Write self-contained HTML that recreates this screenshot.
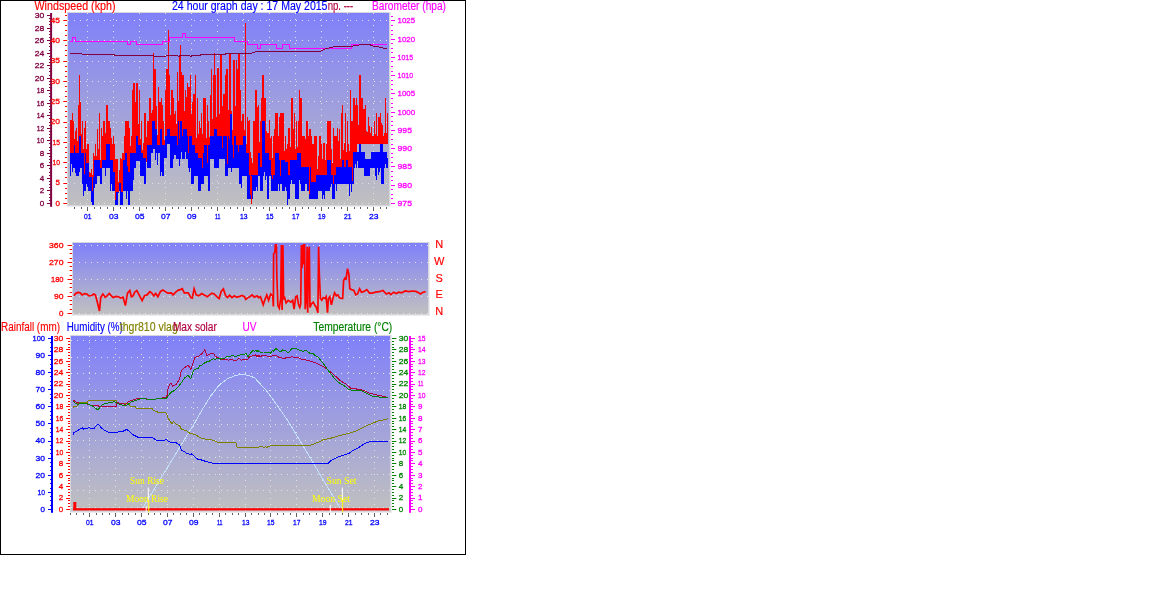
<!DOCTYPE html>
<html><head><meta charset="utf-8"><title>24 hour graph</title>
<style>html,body{margin:0;padding:0;background:#fff}svg{display:block}text{font-family:"Liberation Sans",Arial,sans-serif}</style>
</head><body>
<svg width="1176" height="615" viewBox="0 0 1176 615">
<defs>
<linearGradient id="g1" x1="0" y1="0" x2="0" y2="1"><stop offset="0" stop-color="#8080fa"/><stop offset="1" stop-color="#c0c0c0"/></linearGradient>
</defs>
<rect x="0" y="0" width="1176" height="615" fill="#fff"/>
<rect x="0.5" y="0.5" width="465" height="554" fill="#fff" stroke="#000" stroke-width="1"/>
<rect x="67" y="12" width="324" height="195" fill="#ececf0"/>
<rect x="67" y="12" width="323" height="194" fill="#d6d6dc"/>
<rect x="68" y="13" width="321" height="192" fill="url(#g1)"/>
<line x1="68" y1="20.5" x2="389" y2="20.5" stroke="#e4e4e0" stroke-width="1" stroke-dasharray="1 5" shape-rendering="crispEdges"/>
<line x1="68" y1="40.5" x2="389" y2="40.5" stroke="#e4e4e0" stroke-width="1" stroke-dasharray="1 5" shape-rendering="crispEdges"/>
<line x1="68" y1="61.5" x2="389" y2="61.5" stroke="#e4e4e0" stroke-width="1" stroke-dasharray="1 5" shape-rendering="crispEdges"/>
<line x1="68" y1="81.5" x2="389" y2="81.5" stroke="#e4e4e0" stroke-width="1" stroke-dasharray="1 5" shape-rendering="crispEdges"/>
<line x1="68" y1="101.5" x2="389" y2="101.5" stroke="#e4e4e0" stroke-width="1" stroke-dasharray="1 5" shape-rendering="crispEdges"/>
<line x1="68" y1="122.5" x2="389" y2="122.5" stroke="#e4e4e0" stroke-width="1" stroke-dasharray="1 5" shape-rendering="crispEdges"/>
<line x1="68" y1="142.5" x2="389" y2="142.5" stroke="#e4e4e0" stroke-width="1" stroke-dasharray="1 5" shape-rendering="crispEdges"/>
<line x1="68" y1="162.5" x2="389" y2="162.5" stroke="#e4e4e0" stroke-width="1" stroke-dasharray="1 5" shape-rendering="crispEdges"/>
<line x1="68" y1="183.5" x2="389" y2="183.5" stroke="#e4e4e0" stroke-width="1" stroke-dasharray="1 5" shape-rendering="crispEdges"/>
<line x1="68" y1="203.5" x2="389" y2="203.5" stroke="#e4e4e0" stroke-width="1" stroke-dasharray="1 5" shape-rendering="crispEdges"/>
<line x1="87.5" y1="13" x2="87.5" y2="205" stroke="#e4e4e0" stroke-width="1" stroke-dasharray="1 5" shape-rendering="crispEdges"/>
<line x1="113.5" y1="13" x2="113.5" y2="205" stroke="#e4e4e0" stroke-width="1" stroke-dasharray="1 5" shape-rendering="crispEdges"/>
<line x1="139.5" y1="13" x2="139.5" y2="205" stroke="#e4e4e0" stroke-width="1" stroke-dasharray="1 5" shape-rendering="crispEdges"/>
<line x1="165.5" y1="13" x2="165.5" y2="205" stroke="#e4e4e0" stroke-width="1" stroke-dasharray="1 5" shape-rendering="crispEdges"/>
<line x1="191.5" y1="13" x2="191.5" y2="205" stroke="#e4e4e0" stroke-width="1" stroke-dasharray="1 5" shape-rendering="crispEdges"/>
<line x1="217.5" y1="13" x2="217.5" y2="205" stroke="#e4e4e0" stroke-width="1" stroke-dasharray="1 5" shape-rendering="crispEdges"/>
<line x1="243.5" y1="13" x2="243.5" y2="205" stroke="#e4e4e0" stroke-width="1" stroke-dasharray="1 5" shape-rendering="crispEdges"/>
<line x1="269.5" y1="13" x2="269.5" y2="205" stroke="#e4e4e0" stroke-width="1" stroke-dasharray="1 5" shape-rendering="crispEdges"/>
<line x1="295.5" y1="13" x2="295.5" y2="205" stroke="#e4e4e0" stroke-width="1" stroke-dasharray="1 5" shape-rendering="crispEdges"/>
<line x1="321.5" y1="13" x2="321.5" y2="205" stroke="#e4e4e0" stroke-width="1" stroke-dasharray="1 5" shape-rendering="crispEdges"/>
<line x1="347.5" y1="13" x2="347.5" y2="205" stroke="#e4e4e0" stroke-width="1" stroke-dasharray="1 5" shape-rendering="crispEdges"/>
<line x1="373.5" y1="13" x2="373.5" y2="205" stroke="#e4e4e0" stroke-width="1" stroke-dasharray="1 5" shape-rendering="crispEdges"/>
<text x="34.5" y="9.8" fill="#ff0000" stroke="#ff0000" stroke-width="0.15" font-size="12" text-anchor="start" textLength="81" lengthAdjust="spacingAndGlyphs" >Windspeed (kph)</text>
<text x="172" y="9.8" fill="#0000ff" stroke="#0000ff" stroke-width="0.15" font-size="12" text-anchor="start" textLength="155.5" lengthAdjust="spacingAndGlyphs" >24 hour graph day : 17 May 2015</text>
<text x="327.7" y="9.8" fill="#b00040" stroke="#b00040" stroke-width="0.15" font-size="12" text-anchor="start" textLength="25.5" lengthAdjust="spacingAndGlyphs" >np. ---</text>
<text x="372" y="9.8" fill="#ff00ff" stroke="#ff00ff" stroke-width="0.15" font-size="12" text-anchor="start" textLength="74" lengthAdjust="spacingAndGlyphs" >Barometer (hpa)</text>
<rect x="50.10" y="13" width="2" height="193.80" fill="#800040"/>
<rect x="47" y="203.00" width="3.50" height="1" fill="#800040"/>
<text x="44.3" y="205.8" fill="#800040" stroke="#800040" stroke-width="0.3" font-size="8" text-anchor="end" >0</text>
<rect x="49" y="200.00" width="1.50" height="1" fill="#800040"/>
<rect x="49" y="197.00" width="1.50" height="1" fill="#800040"/>
<rect x="49" y="194.00" width="1.50" height="1" fill="#800040"/>
<rect x="47" y="190.00" width="3.50" height="1" fill="#800040"/>
<text x="44.3" y="193.28" fill="#800040" stroke="#800040" stroke-width="0.3" font-size="8" text-anchor="end" >2</text>
<rect x="49" y="187.00" width="1.50" height="1" fill="#800040"/>
<rect x="49" y="184.00" width="1.50" height="1" fill="#800040"/>
<rect x="49" y="181.00" width="1.50" height="1" fill="#800040"/>
<rect x="47" y="178.00" width="3.50" height="1" fill="#800040"/>
<text x="44.3" y="180.76000000000002" fill="#800040" stroke="#800040" stroke-width="0.3" font-size="8" text-anchor="end" >4</text>
<rect x="49" y="175.00" width="1.50" height="1" fill="#800040"/>
<rect x="49" y="172.00" width="1.50" height="1" fill="#800040"/>
<rect x="49" y="168.00" width="1.50" height="1" fill="#800040"/>
<rect x="47" y="165.00" width="3.50" height="1" fill="#800040"/>
<text x="44.3" y="168.24" fill="#800040" stroke="#800040" stroke-width="0.3" font-size="8" text-anchor="end" >6</text>
<rect x="49" y="162.00" width="1.50" height="1" fill="#800040"/>
<rect x="49" y="159.00" width="1.50" height="1" fill="#800040"/>
<rect x="49" y="156.00" width="1.50" height="1" fill="#800040"/>
<rect x="47" y="153.00" width="3.50" height="1" fill="#800040"/>
<text x="44.3" y="155.72" fill="#800040" stroke="#800040" stroke-width="0.3" font-size="8" text-anchor="end" >8</text>
<rect x="49" y="150.00" width="1.50" height="1" fill="#800040"/>
<rect x="49" y="147.00" width="1.50" height="1" fill="#800040"/>
<rect x="49" y="143.00" width="1.50" height="1" fill="#800040"/>
<rect x="47" y="140.00" width="3.50" height="1" fill="#800040"/>
<text x="44.3" y="143.20000000000002" fill="#800040" stroke="#800040" stroke-width="0.3" font-size="8" text-anchor="end" textLength="7.5" lengthAdjust="spacingAndGlyphs" >10</text>
<rect x="49" y="137.00" width="1.50" height="1" fill="#800040"/>
<rect x="49" y="134.00" width="1.50" height="1" fill="#800040"/>
<rect x="49" y="131.00" width="1.50" height="1" fill="#800040"/>
<rect x="47" y="128.00" width="3.50" height="1" fill="#800040"/>
<text x="44.3" y="130.68" fill="#800040" stroke="#800040" stroke-width="0.3" font-size="8" text-anchor="end" textLength="7.5" lengthAdjust="spacingAndGlyphs" >12</text>
<rect x="49" y="125.00" width="1.50" height="1" fill="#800040"/>
<rect x="49" y="122.00" width="1.50" height="1" fill="#800040"/>
<rect x="49" y="118.00" width="1.50" height="1" fill="#800040"/>
<rect x="47" y="115.00" width="3.50" height="1" fill="#800040"/>
<text x="44.3" y="118.16000000000001" fill="#800040" stroke="#800040" stroke-width="0.3" font-size="8" text-anchor="end" textLength="7.5" lengthAdjust="spacingAndGlyphs" >14</text>
<rect x="49" y="112.00" width="1.50" height="1" fill="#800040"/>
<rect x="49" y="109.00" width="1.50" height="1" fill="#800040"/>
<rect x="49" y="106.00" width="1.50" height="1" fill="#800040"/>
<rect x="47" y="103.00" width="3.50" height="1" fill="#800040"/>
<text x="44.3" y="105.64000000000001" fill="#800040" stroke="#800040" stroke-width="0.3" font-size="8" text-anchor="end" textLength="7.5" lengthAdjust="spacingAndGlyphs" >16</text>
<rect x="49" y="100.00" width="1.50" height="1" fill="#800040"/>
<rect x="49" y="96.00" width="1.50" height="1" fill="#800040"/>
<rect x="49" y="93.00" width="1.50" height="1" fill="#800040"/>
<rect x="47" y="90.00" width="3.50" height="1" fill="#800040"/>
<text x="44.3" y="93.12000000000002" fill="#800040" stroke="#800040" stroke-width="0.3" font-size="8" text-anchor="end" textLength="7.5" lengthAdjust="spacingAndGlyphs" >18</text>
<rect x="49" y="87.00" width="1.50" height="1" fill="#800040"/>
<rect x="49" y="84.00" width="1.50" height="1" fill="#800040"/>
<rect x="49" y="81.00" width="1.50" height="1" fill="#800040"/>
<rect x="47" y="78.00" width="3.50" height="1" fill="#800040"/>
<text x="44.3" y="80.60000000000002" fill="#800040" stroke="#800040" stroke-width="0.3" font-size="8" text-anchor="end" textLength="9.5" lengthAdjust="spacingAndGlyphs" >20</text>
<rect x="49" y="75.00" width="1.50" height="1" fill="#800040"/>
<rect x="49" y="71.00" width="1.50" height="1" fill="#800040"/>
<rect x="49" y="68.00" width="1.50" height="1" fill="#800040"/>
<rect x="47" y="65.00" width="3.50" height="1" fill="#800040"/>
<text x="44.3" y="68.08000000000001" fill="#800040" stroke="#800040" stroke-width="0.3" font-size="8" text-anchor="end" textLength="9.5" lengthAdjust="spacingAndGlyphs" >22</text>
<rect x="49" y="62.00" width="1.50" height="1" fill="#800040"/>
<rect x="49" y="59.00" width="1.50" height="1" fill="#800040"/>
<rect x="49" y="56.00" width="1.50" height="1" fill="#800040"/>
<rect x="47" y="53.00" width="3.50" height="1" fill="#800040"/>
<text x="44.3" y="55.559999999999995" fill="#800040" stroke="#800040" stroke-width="0.3" font-size="8" text-anchor="end" textLength="9.5" lengthAdjust="spacingAndGlyphs" >24</text>
<rect x="49" y="50.00" width="1.50" height="1" fill="#800040"/>
<rect x="49" y="46.00" width="1.50" height="1" fill="#800040"/>
<rect x="49" y="43.00" width="1.50" height="1" fill="#800040"/>
<rect x="47" y="40.00" width="3.50" height="1" fill="#800040"/>
<text x="44.3" y="43.04000000000001" fill="#800040" stroke="#800040" stroke-width="0.3" font-size="8" text-anchor="end" textLength="9.5" lengthAdjust="spacingAndGlyphs" >26</text>
<rect x="49" y="37.00" width="1.50" height="1" fill="#800040"/>
<rect x="49" y="34.00" width="1.50" height="1" fill="#800040"/>
<rect x="49" y="31.00" width="1.50" height="1" fill="#800040"/>
<rect x="47" y="28.00" width="3.50" height="1" fill="#800040"/>
<text x="44.3" y="30.520000000000003" fill="#800040" stroke="#800040" stroke-width="0.3" font-size="8" text-anchor="end" textLength="9.5" lengthAdjust="spacingAndGlyphs" >28</text>
<rect x="49" y="24.00" width="1.50" height="1" fill="#800040"/>
<rect x="49" y="21.00" width="1.50" height="1" fill="#800040"/>
<rect x="49" y="18.00" width="1.50" height="1" fill="#800040"/>
<rect x="47" y="15.00" width="3.50" height="1" fill="#800040"/>
<text x="44.3" y="18.00000000000002" fill="#800040" stroke="#800040" stroke-width="0.3" font-size="8" text-anchor="end" textLength="9.5" lengthAdjust="spacingAndGlyphs" >30</text>
<rect x="63.3" y="203.00" width="3.70" height="1" fill="#ff0000"/>
<text x="60" y="205.8" fill="#ff0000" stroke="#ff0000" stroke-width="0.3" font-size="8" text-anchor="end" >0</text>
<rect x="65" y="198.00" width="2.00" height="1" fill="#ff0000"/>
<rect x="65" y="193.00" width="2.00" height="1" fill="#ff0000"/>
<rect x="65" y="188.00" width="2.00" height="1" fill="#ff0000"/>
<rect x="63.3" y="183.00" width="3.70" height="1" fill="#ff0000"/>
<text x="60" y="185.465" fill="#ff0000" stroke="#ff0000" stroke-width="0.3" font-size="8" text-anchor="end" >5</text>
<rect x="65" y="177.00" width="2.00" height="1" fill="#ff0000"/>
<rect x="65" y="172.00" width="2.00" height="1" fill="#ff0000"/>
<rect x="65" y="167.00" width="2.00" height="1" fill="#ff0000"/>
<rect x="63.3" y="162.00" width="3.70" height="1" fill="#ff0000"/>
<text x="60" y="165.13000000000002" fill="#ff0000" stroke="#ff0000" stroke-width="0.3" font-size="8" text-anchor="end" textLength="7.5" lengthAdjust="spacingAndGlyphs" >10</text>
<rect x="65" y="157.00" width="2.00" height="1" fill="#ff0000"/>
<rect x="65" y="152.00" width="2.00" height="1" fill="#ff0000"/>
<rect x="65" y="147.00" width="2.00" height="1" fill="#ff0000"/>
<rect x="63.3" y="142.00" width="3.70" height="1" fill="#ff0000"/>
<text x="60" y="144.79500000000002" fill="#ff0000" stroke="#ff0000" stroke-width="0.3" font-size="8" text-anchor="end" textLength="7.5" lengthAdjust="spacingAndGlyphs" >15</text>
<rect x="65" y="137.00" width="2.00" height="1" fill="#ff0000"/>
<rect x="65" y="132.00" width="2.00" height="1" fill="#ff0000"/>
<rect x="65" y="127.00" width="2.00" height="1" fill="#ff0000"/>
<rect x="63.3" y="122.00" width="3.70" height="1" fill="#ff0000"/>
<text x="60" y="124.46000000000001" fill="#ff0000" stroke="#ff0000" stroke-width="0.3" font-size="8" text-anchor="end" textLength="9.5" lengthAdjust="spacingAndGlyphs" >20</text>
<rect x="65" y="116.00" width="2.00" height="1" fill="#ff0000"/>
<rect x="65" y="111.00" width="2.00" height="1" fill="#ff0000"/>
<rect x="65" y="106.00" width="2.00" height="1" fill="#ff0000"/>
<rect x="63.3" y="101.00" width="3.70" height="1" fill="#ff0000"/>
<text x="60" y="104.125" fill="#ff0000" stroke="#ff0000" stroke-width="0.3" font-size="8" text-anchor="end" textLength="9.5" lengthAdjust="spacingAndGlyphs" >25</text>
<rect x="65" y="96.00" width="2.00" height="1" fill="#ff0000"/>
<rect x="65" y="91.00" width="2.00" height="1" fill="#ff0000"/>
<rect x="65" y="86.00" width="2.00" height="1" fill="#ff0000"/>
<rect x="63.3" y="81.00" width="3.70" height="1" fill="#ff0000"/>
<text x="60" y="83.79" fill="#ff0000" stroke="#ff0000" stroke-width="0.3" font-size="8" text-anchor="end" textLength="9.5" lengthAdjust="spacingAndGlyphs" >30</text>
<rect x="65" y="76.00" width="2.00" height="1" fill="#ff0000"/>
<rect x="65" y="71.00" width="2.00" height="1" fill="#ff0000"/>
<rect x="65" y="66.00" width="2.00" height="1" fill="#ff0000"/>
<rect x="63.3" y="61.00" width="3.70" height="1" fill="#ff0000"/>
<text x="60" y="63.455000000000005" fill="#ff0000" stroke="#ff0000" stroke-width="0.3" font-size="8" text-anchor="end" textLength="9.5" lengthAdjust="spacingAndGlyphs" >35</text>
<rect x="65" y="55.00" width="2.00" height="1" fill="#ff0000"/>
<rect x="65" y="50.00" width="2.00" height="1" fill="#ff0000"/>
<rect x="65" y="45.00" width="2.00" height="1" fill="#ff0000"/>
<rect x="63.3" y="40.00" width="3.70" height="1" fill="#ff0000"/>
<text x="60" y="43.12" fill="#ff0000" stroke="#ff0000" stroke-width="0.3" font-size="8" text-anchor="end" textLength="9.5" lengthAdjust="spacingAndGlyphs" >40</text>
<rect x="65" y="35.00" width="2.00" height="1" fill="#ff0000"/>
<rect x="65" y="30.00" width="2.00" height="1" fill="#ff0000"/>
<rect x="65" y="25.00" width="2.00" height="1" fill="#ff0000"/>
<rect x="63.3" y="20.00" width="3.70" height="1" fill="#ff0000"/>
<text x="60" y="22.78499999999999" fill="#ff0000" stroke="#ff0000" stroke-width="0.3" font-size="8" text-anchor="end" textLength="9.5" lengthAdjust="spacingAndGlyphs" >45</text>
<rect x="65" y="15.00" width="2.00" height="1" fill="#ff0000"/>
<rect x="391" y="203.00" width="4.00" height="1" fill="#ff00ff"/>
<text x="397.5" y="205.8" fill="#ff00ff" stroke="#ff00ff" stroke-width="0.3" font-size="8" text-anchor="start" textLength="14.5" lengthAdjust="spacingAndGlyphs" >975</text>
<rect x="391" y="198.00" width="2.00" height="1" fill="#ff00ff"/>
<rect x="391" y="194.00" width="2.00" height="1" fill="#ff00ff"/>
<rect x="391" y="189.00" width="2.00" height="1" fill="#ff00ff"/>
<rect x="391" y="185.00" width="4.00" height="1" fill="#ff00ff"/>
<text x="397.5" y="187.55" fill="#ff00ff" stroke="#ff00ff" stroke-width="0.3" font-size="8" text-anchor="start" textLength="14.5" lengthAdjust="spacingAndGlyphs" >980</text>
<rect x="391" y="180.00" width="2.00" height="1" fill="#ff00ff"/>
<rect x="391" y="176.00" width="2.00" height="1" fill="#ff00ff"/>
<rect x="391" y="171.00" width="2.00" height="1" fill="#ff00ff"/>
<rect x="391" y="166.00" width="4.00" height="1" fill="#ff00ff"/>
<text x="397.5" y="169.3" fill="#ff00ff" stroke="#ff00ff" stroke-width="0.3" font-size="8" text-anchor="start" textLength="14.5" lengthAdjust="spacingAndGlyphs" >985</text>
<rect x="391" y="162.00" width="2.00" height="1" fill="#ff00ff"/>
<rect x="391" y="157.00" width="2.00" height="1" fill="#ff00ff"/>
<rect x="391" y="153.00" width="2.00" height="1" fill="#ff00ff"/>
<rect x="391" y="148.00" width="4.00" height="1" fill="#ff00ff"/>
<text x="397.5" y="151.05" fill="#ff00ff" stroke="#ff00ff" stroke-width="0.3" font-size="8" text-anchor="start" textLength="14.5" lengthAdjust="spacingAndGlyphs" >990</text>
<rect x="391" y="144.00" width="2.00" height="1" fill="#ff00ff"/>
<rect x="391" y="139.00" width="2.00" height="1" fill="#ff00ff"/>
<rect x="391" y="134.00" width="2.00" height="1" fill="#ff00ff"/>
<rect x="391" y="130.00" width="4.00" height="1" fill="#ff00ff"/>
<text x="397.5" y="132.8" fill="#ff00ff" stroke="#ff00ff" stroke-width="0.3" font-size="8" text-anchor="start" textLength="14.5" lengthAdjust="spacingAndGlyphs" >995</text>
<rect x="391" y="125.00" width="2.00" height="1" fill="#ff00ff"/>
<rect x="391" y="121.00" width="2.00" height="1" fill="#ff00ff"/>
<rect x="391" y="116.00" width="2.00" height="1" fill="#ff00ff"/>
<rect x="391" y="112.00" width="4.00" height="1" fill="#ff00ff"/>
<text x="397.5" y="114.55000000000001" fill="#ff00ff" stroke="#ff00ff" stroke-width="0.3" font-size="8" text-anchor="start" textLength="17.5" lengthAdjust="spacingAndGlyphs" >1000</text>
<rect x="391" y="107.00" width="2.00" height="1" fill="#ff00ff"/>
<rect x="391" y="103.00" width="2.00" height="1" fill="#ff00ff"/>
<rect x="391" y="98.00" width="2.00" height="1" fill="#ff00ff"/>
<rect x="391" y="93.00" width="4.00" height="1" fill="#ff00ff"/>
<text x="397.5" y="96.30000000000001" fill="#ff00ff" stroke="#ff00ff" stroke-width="0.3" font-size="8" text-anchor="start" textLength="17.5" lengthAdjust="spacingAndGlyphs" >1005</text>
<rect x="391" y="89.00" width="2.00" height="1" fill="#ff00ff"/>
<rect x="391" y="84.00" width="2.00" height="1" fill="#ff00ff"/>
<rect x="391" y="80.00" width="2.00" height="1" fill="#ff00ff"/>
<rect x="391" y="75.00" width="4.00" height="1" fill="#ff00ff"/>
<text x="397.5" y="78.05000000000001" fill="#ff00ff" stroke="#ff00ff" stroke-width="0.3" font-size="8" text-anchor="start" textLength="15.5" lengthAdjust="spacingAndGlyphs" >1010</text>
<rect x="391" y="71.00" width="2.00" height="1" fill="#ff00ff"/>
<rect x="391" y="66.00" width="2.00" height="1" fill="#ff00ff"/>
<rect x="391" y="61.00" width="2.00" height="1" fill="#ff00ff"/>
<rect x="391" y="57.00" width="4.00" height="1" fill="#ff00ff"/>
<text x="397.5" y="59.800000000000004" fill="#ff00ff" stroke="#ff00ff" stroke-width="0.3" font-size="8" text-anchor="start" textLength="15.5" lengthAdjust="spacingAndGlyphs" >1015</text>
<rect x="391" y="52.00" width="2.00" height="1" fill="#ff00ff"/>
<rect x="391" y="48.00" width="2.00" height="1" fill="#ff00ff"/>
<rect x="391" y="43.00" width="2.00" height="1" fill="#ff00ff"/>
<rect x="391" y="39.00" width="4.00" height="1" fill="#ff00ff"/>
<text x="397.5" y="41.550000000000004" fill="#ff00ff" stroke="#ff00ff" stroke-width="0.3" font-size="8" text-anchor="start" textLength="17.5" lengthAdjust="spacingAndGlyphs" >1020</text>
<rect x="391" y="34.00" width="2.00" height="1" fill="#ff00ff"/>
<rect x="391" y="30.00" width="2.00" height="1" fill="#ff00ff"/>
<rect x="391" y="25.00" width="2.00" height="1" fill="#ff00ff"/>
<rect x="391" y="20.00" width="4.00" height="1" fill="#ff00ff"/>
<text x="397.5" y="23.300000000000004" fill="#ff00ff" stroke="#ff00ff" stroke-width="0.3" font-size="8" text-anchor="start" textLength="17.5" lengthAdjust="spacingAndGlyphs" >1025</text>
<rect x="391" y="16.00" width="2.00" height="1" fill="#ff00ff"/>
<rect x="74.00" y="207" width="1" height="2.00" fill="#606060"/>
<rect x="81.00" y="207" width="1" height="2.00" fill="#606060"/>
<rect x="87.00" y="207" width="1" height="4.00" fill="#606060"/>
<text x="87.7" y="219.4" fill="#0000ff" stroke="#0000ff" stroke-width="0.3" font-size="8" text-anchor="middle" textLength="7.5" lengthAdjust="spacingAndGlyphs" >01</text>
<rect x="94.00" y="207" width="1" height="2.00" fill="#606060"/>
<rect x="100.00" y="207" width="1" height="2.00" fill="#606060"/>
<rect x="107.00" y="207" width="1" height="2.00" fill="#606060"/>
<rect x="113.00" y="207" width="1" height="4.00" fill="#606060"/>
<text x="113.7" y="219.4" fill="#0000ff" stroke="#0000ff" stroke-width="0.3" font-size="8" text-anchor="middle" textLength="9.5" lengthAdjust="spacingAndGlyphs" >03</text>
<rect x="120.00" y="207" width="1" height="2.00" fill="#606060"/>
<rect x="126.00" y="207" width="1" height="2.00" fill="#606060"/>
<rect x="133.00" y="207" width="1" height="2.00" fill="#606060"/>
<rect x="139.00" y="207" width="1" height="4.00" fill="#606060"/>
<text x="139.7" y="219.4" fill="#0000ff" stroke="#0000ff" stroke-width="0.3" font-size="8" text-anchor="middle" textLength="9.5" lengthAdjust="spacingAndGlyphs" >05</text>
<rect x="146.00" y="207" width="1" height="2.00" fill="#606060"/>
<rect x="152.00" y="207" width="1" height="2.00" fill="#606060"/>
<rect x="159.00" y="207" width="1" height="2.00" fill="#606060"/>
<rect x="165.00" y="207" width="1" height="4.00" fill="#606060"/>
<text x="165.7" y="219.4" fill="#0000ff" stroke="#0000ff" stroke-width="0.3" font-size="8" text-anchor="middle" textLength="9.5" lengthAdjust="spacingAndGlyphs" >07</text>
<rect x="172.00" y="207" width="1" height="2.00" fill="#606060"/>
<rect x="178.00" y="207" width="1" height="2.00" fill="#606060"/>
<rect x="185.00" y="207" width="1" height="2.00" fill="#606060"/>
<rect x="191.00" y="207" width="1" height="4.00" fill="#606060"/>
<text x="191.7" y="219.4" fill="#0000ff" stroke="#0000ff" stroke-width="0.3" font-size="8" text-anchor="middle" textLength="9.5" lengthAdjust="spacingAndGlyphs" >09</text>
<rect x="198.00" y="207" width="1" height="2.00" fill="#606060"/>
<rect x="204.00" y="207" width="1" height="2.00" fill="#606060"/>
<rect x="211.00" y="207" width="1" height="2.00" fill="#606060"/>
<rect x="217.00" y="207" width="1" height="4.00" fill="#606060"/>
<text x="217.7" y="219.4" fill="#0000ff" stroke="#0000ff" stroke-width="0.3" font-size="8" text-anchor="middle" textLength="5.5" lengthAdjust="spacingAndGlyphs" >11</text>
<rect x="224.00" y="207" width="1" height="2.00" fill="#606060"/>
<rect x="230.00" y="207" width="1" height="2.00" fill="#606060"/>
<rect x="237.00" y="207" width="1" height="2.00" fill="#606060"/>
<rect x="243.00" y="207" width="1" height="4.00" fill="#606060"/>
<text x="243.7" y="219.4" fill="#0000ff" stroke="#0000ff" stroke-width="0.3" font-size="8" text-anchor="middle" textLength="7.5" lengthAdjust="spacingAndGlyphs" >13</text>
<rect x="250.00" y="207" width="1" height="2.00" fill="#606060"/>
<rect x="256.00" y="207" width="1" height="2.00" fill="#606060"/>
<rect x="263.00" y="207" width="1" height="2.00" fill="#606060"/>
<rect x="269.00" y="207" width="1" height="4.00" fill="#606060"/>
<text x="269.7" y="219.4" fill="#0000ff" stroke="#0000ff" stroke-width="0.3" font-size="8" text-anchor="middle" textLength="7.5" lengthAdjust="spacingAndGlyphs" >15</text>
<rect x="276.00" y="207" width="1" height="2.00" fill="#606060"/>
<rect x="282.00" y="207" width="1" height="2.00" fill="#606060"/>
<rect x="289.00" y="207" width="1" height="2.00" fill="#606060"/>
<rect x="295.00" y="207" width="1" height="4.00" fill="#606060"/>
<text x="295.7" y="219.4" fill="#0000ff" stroke="#0000ff" stroke-width="0.3" font-size="8" text-anchor="middle" textLength="7.5" lengthAdjust="spacingAndGlyphs" >17</text>
<rect x="302.00" y="207" width="1" height="2.00" fill="#606060"/>
<rect x="308.00" y="207" width="1" height="2.00" fill="#606060"/>
<rect x="315.00" y="207" width="1" height="2.00" fill="#606060"/>
<rect x="321.00" y="207" width="1" height="4.00" fill="#606060"/>
<text x="321.7" y="219.4" fill="#0000ff" stroke="#0000ff" stroke-width="0.3" font-size="8" text-anchor="middle" textLength="7.5" lengthAdjust="spacingAndGlyphs" >19</text>
<rect x="328.00" y="207" width="1" height="2.00" fill="#606060"/>
<rect x="334.00" y="207" width="1" height="2.00" fill="#606060"/>
<rect x="341.00" y="207" width="1" height="2.00" fill="#606060"/>
<rect x="347.00" y="207" width="1" height="4.00" fill="#606060"/>
<text x="347.7" y="219.4" fill="#0000ff" stroke="#0000ff" stroke-width="0.3" font-size="8" text-anchor="middle" textLength="7.5" lengthAdjust="spacingAndGlyphs" >21</text>
<rect x="354.00" y="207" width="1" height="2.00" fill="#606060"/>
<rect x="360.00" y="207" width="1" height="2.00" fill="#606060"/>
<rect x="367.00" y="207" width="1" height="2.00" fill="#606060"/>
<rect x="373.00" y="207" width="1" height="4.00" fill="#606060"/>
<text x="373.7" y="219.4" fill="#0000ff" stroke="#0000ff" stroke-width="0.3" font-size="8" text-anchor="middle" textLength="9.5" lengthAdjust="spacingAndGlyphs" >23</text>
<rect x="380.00" y="207" width="1" height="2.00" fill="#606060"/>
<rect x="386.00" y="207" width="1" height="2.00" fill="#606060"/>
<path d="M70.5 152.6V176.0M71.5 152.6V163.7M72.5 152.6V171.7M73.5 152.6V167.7M74.5 144.2V168.0M75.5 152.6V173.0M76.5 152.6V176.0M77.5 152.6V176.0M78.5 152.6V176.0M79.5 135.8V171.7M80.5 135.8V167.7M81.5 152.6V167.7M82.5 152.6V183.6M83.5 152.6V195.6M84.5 152.6V190.6M85.5 152.6V190.6M86.5 162.6V183.6M87.5 162.6V187.1M88.5 162.6V191.1M89.5 176.0V191.1M90.5 176.0V191.1M91.5 176.0V201.7M92.5 176.0V205.3M93.5 176.0V205.3M94.5 159.3V187.6M95.5 159.3V183.6M96.5 159.3V183.6M97.5 159.3V176.0M98.5 159.3V176.0M99.5 159.3V176.0M100.5 167.7V183.6M101.5 167.7V183.6M102.5 159.3V167.7M103.5 159.3V167.7M104.5 159.3V167.7M105.5 159.3V175.7M106.5 143.4V167.7M107.5 143.4V167.7M108.5 143.4V167.7M109.5 143.4V167.7M110.5 159.3V191.1M111.5 159.3V184.1M112.5 159.3V191.1M113.5 171.0V191.1M114.5 171.0V191.1M115.5 177.7V205.3M116.5 191.1V205.3M117.5 191.1V205.3M118.5 191.1V193.1M119.5 182.7V191.1M120.5 182.7V205.3M121.5 191.1V205.3M122.5 191.1V205.3M123.5 159.3V191.1M124.5 159.3V191.1M125.5 152.6V191.1M126.5 152.6V199.1M127.5 152.6V191.1M128.5 171.0V205.3M129.5 171.0V205.3M130.5 152.6V191.1M131.5 152.6V191.1M132.5 152.6V191.1M133.5 152.6V179.7M134.5 152.6V167.7M135.5 152.6V167.7M136.5 135.8V161.0M137.5 135.8V161.0M138.5 144.2V161.0M139.5 144.2V161.0M140.5 144.2V176.0M141.5 152.6V176.0M142.5 152.6V176.0M143.5 157.6V176.0M144.5 157.6V183.6M145.5 157.6V183.6M146.5 144.2V160.7M147.5 144.2V167.7M148.5 144.2V167.7M149.5 144.2V167.7M150.5 144.2V167.7M151.5 144.2V152.6M152.5 120.8V152.6M153.5 120.8V148.6M154.5 120.8V148.6M155.5 128.3V159.6M156.5 128.3V152.6M157.5 144.2V164.6M158.5 144.2V152.6M159.5 144.2V152.6M160.5 128.3V176.0M161.5 128.3V172.0M162.5 144.2V176.0M163.5 144.2V176.0M164.5 144.2V157.6M165.5 135.8V157.6M166.5 135.8V157.6M167.5 128.3V144.2M168.5 128.3V144.2M169.5 128.3V144.2M170.5 135.8V167.7M171.5 135.8V167.7M172.5 135.8V167.7M173.5 135.8V159.3M174.5 135.8V155.3M175.5 135.8V155.3M176.5 135.8V159.3M177.5 144.2V159.3M178.5 120.8V159.3M179.5 120.8V166.3M180.5 120.8V159.3M181.5 120.8V152.3M182.5 135.8V159.3M183.5 128.3V159.3M184.5 128.3V159.3M185.5 128.3V152.3M186.5 128.3V159.3M187.5 135.8V159.3M188.5 135.8V167.7M189.5 135.8V171.7M190.5 135.8V167.7M191.5 135.8V183.6M192.5 144.2V183.6M193.5 144.2V183.6M194.5 144.2V176.0M195.5 152.6V176.0M196.5 152.6V176.0M197.5 152.6V176.0M198.5 157.6V191.1M199.5 157.6V191.1M200.5 157.6V191.1M201.5 157.6V183.6M202.5 152.6V183.6M203.5 152.6V184.0M204.5 144.2V176.0M205.5 144.2V176.0M206.5 144.2V176.0M207.5 144.2V176.0M208.5 144.2V191.1M209.5 144.2V191.1M210.5 135.8V159.3M211.5 135.8V159.3M212.5 135.8V159.3M213.5 135.8V159.3M214.5 128.3V167.7M215.5 128.3V167.7M216.5 128.3V167.7M217.5 135.8V167.7M218.5 135.8V167.7M219.5 135.8V159.3M220.5 135.8V159.3M221.5 135.8V159.3M222.5 135.8V159.3M223.5 135.8V159.3M224.5 135.8V159.3M225.5 135.8V176.0M226.5 135.8V176.0M227.5 135.8V176.0M228.5 135.8V167.7M229.5 113.2V167.7M230.5 113.2V167.7M231.5 113.2V171.7M232.5 144.2V167.7M233.5 144.2V167.7M234.5 135.8V167.7M235.5 135.8V167.7M236.5 144.2V167.7M237.5 144.2V167.7M238.5 144.2V167.7M239.5 144.2V183.6M240.5 144.2V183.6M241.5 144.2V187.6M242.5 144.2V176.0M243.5 135.8V176.0M244.5 135.8V176.0M245.5 135.8V176.0M246.5 152.6V176.0M247.5 152.6V198.6M248.5 152.6V198.6M249.5 174.4V198.6M250.5 174.4V198.6M251.5 174.4V198.6M252.5 174.4V198.6M253.5 174.4V191.1M254.5 174.4V191.1M255.5 174.4V191.1M256.5 174.4V187.1M257.5 174.4V191.1M258.5 152.6V176.0M259.5 152.6V176.0M260.5 166.0V191.1M261.5 166.0V191.1M262.5 120.8V191.1M263.5 120.8V176.0M264.5 120.8V172.0M265.5 152.6V180.0M266.5 152.6V176.0M267.5 152.6V198.6M268.5 152.6V198.6M269.5 159.3V176.0M270.5 159.3V176.0M271.5 174.4V191.1M272.5 174.4V191.1M273.5 174.4V191.1M274.5 174.4V191.1M275.5 152.6V191.1M276.5 152.6V191.1M277.5 152.6V191.1M278.5 152.6V184.1M279.5 159.3V191.1M280.5 159.3V183.6M281.5 159.3V183.6M282.5 159.3V191.1M283.5 159.3V191.1M284.5 159.3V191.1M285.5 161.0V187.1M286.5 161.0V191.1M287.5 161.0V205.3M288.5 174.4V198.6M289.5 174.4V198.6M290.5 159.3V183.6M291.5 159.3V179.6M292.5 159.3V183.6M293.5 159.3V183.6M294.5 159.3V183.6M295.5 159.3V198.6M296.5 159.3V198.6M297.5 152.6V198.6M298.5 152.6V198.6M299.5 152.6V179.6M300.5 152.6V183.6M301.5 166.8V191.1M302.5 166.8V191.1M303.5 166.8V191.1M304.5 166.8V191.1M305.5 166.8V183.6M306.5 166.8V183.6M307.5 166.8V191.1M308.5 166.8V191.1M309.5 166.8V198.6M310.5 166.8V198.6M311.5 181.9V198.6M312.5 181.9V198.6M313.5 181.9V198.6M314.5 181.9V198.6M315.5 181.9V198.6M316.5 174.4V198.6M317.5 174.4V198.6M318.5 174.4V191.1M319.5 174.4V191.1M320.5 174.4V191.1M321.5 174.4V191.1M322.5 174.4V198.6M323.5 174.4V194.6M324.5 174.4V198.6M325.5 174.4V191.1M326.5 174.4V191.1M327.5 159.3V191.1M328.5 159.3V191.1M329.5 159.3V191.1M330.5 159.3V187.1M331.5 174.4V183.6M332.5 174.4V198.6M333.5 174.4V198.6M334.5 174.4V198.6M335.5 174.4V184.1M336.5 166.8V191.1M337.5 166.8V183.6M338.5 166.8V183.6M339.5 166.8V183.6M340.5 166.8V183.6M341.5 166.8V183.6M342.5 159.3V183.6M343.5 159.3V183.6M344.5 166.8V183.6M345.5 166.8V183.6M346.5 159.3V183.6M347.5 159.3V183.6M348.5 166.8V183.6M349.5 166.8V195.6M350.5 166.8V183.6M351.5 166.8V191.6M352.5 166.8V183.6M353.5 151.7V183.6M354.5 151.7V167.7M355.5 151.7V163.7M356.5 151.7V167.7M357.5 151.7V160.7M358.5 151.7V167.7M359.5 144.2V167.7M360.5 144.2V167.7M361.5 151.7V167.7M362.5 151.7V167.7M363.5 151.7V167.7M364.5 151.7V176.0M365.5 159.3V176.0M366.5 159.3V176.0M367.5 159.3V176.0M368.5 159.3V176.0M369.5 159.3V176.0M370.5 159.3V167.7M371.5 151.7V167.7M372.5 151.7V167.7M373.5 151.7V167.7M374.5 151.7V167.7M375.5 151.7V176.0M376.5 151.7V180.0M377.5 151.7V167.7M378.5 151.7V174.7M379.5 151.7V171.7M380.5 144.2V167.7M381.5 144.2V183.6M382.5 144.2V183.6M383.5 151.7V183.6M384.5 151.7V167.7M385.5 151.7V163.7M386.5 151.7V167.7M387.5 157.6V167.6" stroke="#0000ff" stroke-width="1" fill="none" shape-rendering="crispEdges"/>
<path d="M70.5 119.9V153.1M71.5 119.9V153.1M72.5 113.0V153.1M73.5 120.5V153.1M74.5 138.5V144.7M75.5 130.6V153.1M76.5 127.5V153.1M77.5 141.4V153.1M78.5 105.4V153.1M79.5 75.3V136.3M80.5 102.1V136.3M81.5 134.4V153.1M82.5 120.5V153.1M83.5 149.1V153.1M84.5 127.5V173.5M85.5 120.5V153.1M86.5 149.0V163.1M87.5 144.2V163.1M88.5 144.2V163.1M89.5 172.2V176.5M90.5 172.9V176.5M91.5 169.3V176.5M92.5 175.0V176.5M93.5 152.6V176.5M94.5 155.8V159.8M95.5 144.2V159.8M96.5 155.9V159.8M97.5 129.1V159.8M98.5 148.9V159.8M99.5 113.0V159.8M100.5 159.6V168.2M101.5 127.5V168.2M102.5 135.8V159.8M103.5 120.5V159.8M104.5 120.5V159.8M105.5 133.3V159.8M106.5 105.4V143.9M107.5 105.4V143.9M108.5 120.5V143.9M109.5 120.5V143.9M110.5 128.3V159.8M111.5 138.3V159.8M112.5 144.4V159.8M113.5 135.8V171.5M114.5 144.2V171.5M115.5 159.3V199.5M116.5 159.3V191.6M117.5 159.3V191.6M118.5 182.1V191.6M119.5 170.0V183.2M120.5 176.2V183.2M121.5 159.3V191.6M122.5 152.6V191.6M123.5 152.6V159.8M124.5 135.8V159.8M125.5 120.5V153.1M126.5 120.5V153.1M127.5 120.5V165.5M128.5 120.5V171.5M129.5 128.3V171.5M130.5 145.9V153.1M131.5 135.8V153.1M132.5 90.4V153.1M133.5 82.8V153.1M134.5 82.8V153.1M135.5 102.1V153.1M136.5 82.8V136.3M137.5 82.8V136.3M138.5 124.0V144.7M139.5 90.4V144.7M140.5 138.7V144.7M141.5 120.8V153.1M142.5 149.5V153.1M143.5 142.6V158.1M144.5 113.0V158.1M145.5 113.0V158.1M146.5 137.2V161.8M147.5 120.5V144.7M148.5 120.8V144.7M149.5 97.9V144.7M150.5 97.9V144.7M151.5 113.0V144.7M152.5 110.4V121.3M153.5 53.0V121.3M154.5 68.6V121.3M155.5 68.6V128.8M156.5 106.4V128.8M157.5 134.7V144.7M158.5 87.0V144.7M159.5 102.1V144.7M160.5 102.1V128.8M161.5 97.9V128.8M162.5 105.4V144.7M163.5 120.5V144.7M164.5 140.1V144.7M165.5 90.4V136.3M166.5 68.6V136.3M167.5 68.6V128.8M168.5 30.1V128.8M169.5 75.3V128.8M170.5 115.4V136.3M171.5 90.4V136.3M172.5 90.4V136.3M173.5 97.9V136.3M174.5 113.5V136.3M175.5 111.3V136.3M176.5 124.4V136.3M177.5 71.9V144.7M178.5 100.9V121.3M179.5 56.0V138.7M180.5 45.1V121.3M181.5 71.9V121.3M182.5 75.3V136.3M183.5 75.3V128.8M184.5 111.3V128.8M185.5 90.4V128.8M186.5 97.4V128.8M187.5 82.8V136.3M188.5 87.0V152.8M189.5 87.0V136.3M190.5 75.3V136.3M191.5 114.4V136.3M192.5 102.1V144.7M193.5 93.7V144.7M194.5 93.7V144.7M195.5 75.3V153.1M196.5 138.2V153.1M197.5 97.9V153.1M198.5 134.4V158.1M199.5 120.5V158.1M200.5 128.3V158.1M201.5 113.0V158.1M202.5 134.2V167.5M203.5 97.9V153.1M204.5 97.9V144.7M205.5 97.9V144.7M206.5 138.0V144.7M207.5 105.4V163.3M208.5 120.5V144.7M209.5 136.6V144.7M210.5 94.7V136.3M211.5 68.6V136.3M212.5 118.6V136.3M213.5 75.3V136.3M214.5 53.0V128.8M215.5 75.3V128.8M216.5 117.0V128.8M217.5 67.7V136.3M218.5 67.7V136.3M219.5 113.7V136.3M220.5 53.5V136.3M221.5 53.5V136.3M222.5 105.5V148.4M223.5 93.7V136.3M224.5 93.7V136.3M225.5 75.3V136.3M226.5 68.6V136.3M227.5 68.6V163.9M228.5 110.3V136.3M229.5 53.5V138.7M230.5 53.5V113.7M231.5 111.2V113.7M232.5 130.4V144.7M233.5 60.2V157.9M234.5 60.2V136.3M235.5 105.8V136.3M236.5 60.2V144.7M237.5 68.6V144.7M238.5 53.5V152.1M239.5 53.5V144.7M240.5 90.4V144.7M241.5 121.2V144.7M242.5 113.8V144.7M243.5 113.8V136.3M244.5 130.1V136.3M245.5 23.0V136.3M246.5 144.3V153.1M247.5 117.2V153.1M248.5 120.8V153.1M249.5 119.9V174.9M250.5 151.6V195.2M251.5 157.5V174.9M252.5 163.0V174.9M253.5 120.8V174.9M254.5 120.8V174.9M255.5 90.4V174.9M256.5 90.4V174.9M257.5 107.4V174.9M258.5 105.4V153.1M259.5 141.5V153.1M260.5 120.5V166.5M261.5 97.9V166.5M262.5 75.3V121.3M263.5 75.3V121.3M264.5 97.9V121.3M265.5 97.9V153.1M266.5 131.2V153.1M267.5 133.1V153.1M268.5 132.6V153.1M269.5 119.9V159.8M270.5 137.7V159.8M271.5 135.8V174.9M272.5 157.5V179.4M273.5 135.8V174.9M274.5 129.1V174.9M275.5 113.0V153.1M276.5 113.0V153.1M277.5 113.0V153.1M278.5 136.4V153.1M279.5 117.2V159.8M280.5 113.0V175.9M281.5 113.0V159.8M282.5 113.0V159.8M283.5 113.0V159.8M284.5 150.7V159.8M285.5 135.8V161.5M286.5 148.8V161.5M287.5 144.0V161.5M288.5 128.3V174.9M289.5 128.3V174.9M290.5 147.0V159.8M291.5 97.9V159.8M292.5 97.9V159.8M293.5 128.5V159.8M294.5 113.2V159.8M295.5 148.8V159.8M296.5 120.5V159.8M297.5 147.2V153.1M298.5 120.6V153.1M299.5 90.4V153.1M300.5 97.9V153.1M301.5 97.9V167.3M302.5 135.8V167.3M303.5 135.8V167.3M304.5 135.8V167.3M305.5 138.9V167.3M306.5 120.5V167.3M307.5 120.5V167.3M308.5 135.8V167.3M309.5 129.1V193.8M310.5 129.1V167.3M311.5 135.8V182.4M312.5 144.2V182.4M313.5 144.2V182.4M314.5 135.8V182.4M315.5 135.8V182.4M316.5 135.8V174.9M317.5 169.2V174.9M318.5 155.9V174.9M319.5 135.8V174.9M320.5 135.8V174.9M321.5 144.2V174.9M322.5 159.2V174.9M323.5 142.5V174.9M324.5 142.5V174.9M325.5 160.0V174.9M326.5 144.2V174.9M327.5 120.5V159.8M328.5 120.5V159.8M329.5 120.5V159.8M330.5 120.5V159.8M331.5 149.0V174.9M332.5 162.8V174.9M333.5 128.3V183.5M334.5 135.8V174.9M335.5 135.8V174.9M336.5 135.8V167.3M337.5 128.3V167.3M338.5 141.4V167.3M339.5 129.1V167.3M340.5 159.2V167.3M341.5 113.0V167.3M342.5 105.4V159.8M343.5 150.3V159.8M344.5 142.9V167.3M345.5 113.0V167.3M346.5 151.8V159.8M347.5 120.5V159.8M348.5 144.1V167.3M349.5 150.9V167.3M350.5 90.4V167.3M351.5 120.5V167.3M352.5 120.5V180.5M353.5 97.9V152.2M354.5 97.9V152.2M355.5 105.4V152.2M356.5 97.9V152.2M357.5 105.4V144.0M358.5 124.8V144.0M359.5 75.3V144.0M360.5 75.3V144.0M361.5 97.9V144.0M362.5 97.9V144.0M363.5 109.0V144.0M364.5 109.0V144.0M365.5 105.4V144.0M366.5 131.3V144.0M367.5 132.3V144.0M368.5 117.2V144.0M369.5 126.0V144.0M370.5 132.9V144.0M371.5 127.4V144.0M372.5 136.0V144.0M373.5 136.0V144.0M374.5 120.5V144.0M375.5 133.6V144.0M376.5 113.0V144.0M377.5 136.0V144.0M378.5 117.2V144.0M379.5 117.2V144.0M380.5 113.0V144.0M381.5 123.3V144.0M382.5 125.0V144.0M383.5 135.5V144.0M384.5 132.9V144.0M385.5 97.9V144.0M386.5 132.7V144.0M387.5 113.0V144.0" stroke="#ff0000" stroke-width="1" fill="none" shape-rendering="crispEdges"/>
<path d="M92.5 176V191" stroke="#ff0000" stroke-width="1" fill="none" shape-rendering="crispEdges"/>
<path d="M251.5 176V203.5" stroke="#ff0000" stroke-width="1" fill="none" shape-rendering="crispEdges"/>
<path d="M274.5 150V174" stroke="#ff0000" stroke-width="1" fill="none" shape-rendering="crispEdges"/>
<path d="M314.5 165V182" stroke="#ff0000" stroke-width="1" fill="none" shape-rendering="crispEdges"/>
<path d="M120.5 158V182" stroke="#ff0000" stroke-width="1" fill="none" shape-rendering="crispEdges"/>
<polyline points="70.2,41.4 72.4,41.4 72.4,37.3 75.2,37.3 75.2,41.4 127.1,41.4 127.1,44.3 130.5,44.3 130.5,41.4 136.4,41.4 136.4,44.3 162.8,44.3 162.8,41.4 169.0,41.4 169.0,37.3 182.4,37.3 182.4,33.4 185.8,33.4 185.8,37.3 215.1,37.3 215.1,37.3 234.3,37.3 234.3,41.4 247.7,41.4 247.7,44.3 257.0,44.3 257.0,48.1 260.3,48.1 260.3,44.3 276.2,44.3 276.2,48.1 282.9,48.1 282.9,44.3 289.6,44.3 289.6,48.1 351.6,48.1 351.6,44.3 386.8,44.3" fill="none" stroke="#ff00ff" stroke-width="1" stroke-linejoin="miter" shape-rendering="crispEdges"/>
<polyline points="70.2,53.5 81.9,53.5 82.2,54.7 114.2,54.7 114.9,55.7 153.1,55.7 154.4,56.3 165.7,56.3 166.8,55.7 177.4,55.7 178.6,56.5 179.9,55.7 189.6,55.7 190.8,56.5 192.0,55.7 199.7,55.7 200.8,54.7 215.1,54.7 215.1,54.3 225.1,54.3 226.0,53.5 250.3,53.5 256.1,51.5 320.6,51.3 324.0,49.3 334.0,46.8 350.8,46.3 355.8,45.5 362.5,44.5 369.2,44.5 374.2,46.3 380.9,47.3 384.3,48.5 386.8,48.5" fill="none" stroke="#800040" stroke-width="1" stroke-linejoin="miter" shape-rendering="crispEdges"/>
<rect x="72" y="242" width="358" height="74" fill="#ececf0"/>
<rect x="72" y="242" width="357" height="73" fill="#d6d6dc"/>
<rect x="73" y="243" width="355" height="71" fill="url(#g1)"/>
<line x1="73" y1="245.5" x2="428" y2="245.5" stroke="#e4e4e0" stroke-width="1" stroke-dasharray="1 5" shape-rendering="crispEdges"/>
<line x1="73" y1="262.5" x2="428" y2="262.5" stroke="#e4e4e0" stroke-width="1" stroke-dasharray="1 5" shape-rendering="crispEdges"/>
<line x1="73" y1="279.5" x2="428" y2="279.5" stroke="#e4e4e0" stroke-width="1" stroke-dasharray="1 5" shape-rendering="crispEdges"/>
<line x1="73" y1="296.5" x2="428" y2="296.5" stroke="#e4e4e0" stroke-width="1" stroke-dasharray="1 5" shape-rendering="crispEdges"/>
<line x1="73" y1="313.5" x2="428" y2="313.5" stroke="#e4e4e0" stroke-width="1" stroke-dasharray="1 5" shape-rendering="crispEdges"/>
<rect x="67.5" y="245.00" width="4.50" height="1" fill="#ff0000"/>
<text x="63.5" y="247.6" fill="#ff0000" stroke="#ff0000" stroke-width="0.3" font-size="8" text-anchor="end" textLength="14.5" lengthAdjust="spacingAndGlyphs" >360</text>
<rect x="69.7" y="249.00" width="2.30" height="1" fill="#ff0000"/>
<rect x="69.7" y="253.00" width="2.30" height="1" fill="#ff0000"/>
<rect x="69.7" y="258.00" width="2.30" height="1" fill="#ff0000"/>
<rect x="67.5" y="262.00" width="4.50" height="1" fill="#ff0000"/>
<text x="63.5" y="264.67999999999995" fill="#ff0000" stroke="#ff0000" stroke-width="0.3" font-size="8" text-anchor="end" textLength="14.5" lengthAdjust="spacingAndGlyphs" >270</text>
<rect x="69.7" y="266.00" width="2.30" height="1" fill="#ff0000"/>
<rect x="69.7" y="270.00" width="2.30" height="1" fill="#ff0000"/>
<rect x="69.7" y="275.00" width="2.30" height="1" fill="#ff0000"/>
<rect x="67.5" y="279.00" width="4.50" height="1" fill="#ff0000"/>
<text x="63.5" y="281.76" fill="#ff0000" stroke="#ff0000" stroke-width="0.3" font-size="8" text-anchor="end" textLength="12.5" lengthAdjust="spacingAndGlyphs" >180</text>
<rect x="69.7" y="283.00" width="2.30" height="1" fill="#ff0000"/>
<rect x="69.7" y="287.00" width="2.30" height="1" fill="#ff0000"/>
<rect x="69.7" y="292.00" width="2.30" height="1" fill="#ff0000"/>
<rect x="67.5" y="296.00" width="4.50" height="1" fill="#ff0000"/>
<text x="63.5" y="298.84" fill="#ff0000" stroke="#ff0000" stroke-width="0.3" font-size="8" text-anchor="end" textLength="9.5" lengthAdjust="spacingAndGlyphs" >90</text>
<rect x="69.7" y="300.00" width="2.30" height="1" fill="#ff0000"/>
<rect x="69.7" y="304.00" width="2.30" height="1" fill="#ff0000"/>
<rect x="69.7" y="309.00" width="2.30" height="1" fill="#ff0000"/>
<rect x="67.5" y="313.00" width="4.50" height="1" fill="#ff0000"/>
<text x="63.5" y="315.91999999999996" fill="#ff0000" stroke="#ff0000" stroke-width="0.3" font-size="8" text-anchor="end" >0</text>
<text x="439.2" y="248.2" fill="#ff0000" stroke="#ff0000" stroke-width="0.15" font-size="11" text-anchor="middle" >N</text>
<text x="439.2" y="264.9" fill="#ff0000" stroke="#ff0000" stroke-width="0.15" font-size="11" text-anchor="middle" >W</text>
<text x="439.2" y="281.59999999999997" fill="#ff0000" stroke="#ff0000" stroke-width="0.15" font-size="11" text-anchor="middle" >S</text>
<text x="439.2" y="298.29999999999995" fill="#ff0000" stroke="#ff0000" stroke-width="0.15" font-size="11" text-anchor="middle" >E</text>
<text x="439.2" y="315.0" fill="#ff0000" stroke="#ff0000" stroke-width="0.15" font-size="11" text-anchor="middle" >N</text>
<polyline points="73.9,295.8 75.7,293.5 77.9,292.4 80.2,292.8 82.0,294.9 84.6,293.7 86.8,294.0 89.1,295.8 91.8,295.5 93.6,294.0 95.4,294.9 97.1,301.2 99.5,311.0 100.7,297.6 102.9,294.0 105.2,297.2 107.0,295.8 109.3,293.5 111.4,295.8 113.2,297.6 115.9,296.4 118.6,296.7 120.4,298.1 123.0,297.1 125.4,305.6 127.5,293.1 129.8,290.5 131.4,296.7 133.2,295.8 134.6,292.2 136.8,290.5 139.1,294.9 142.1,300.6 144.5,295.8 147.1,294.9 149.8,291.7 151.6,292.8 153.8,295.8 155.7,293.5 157.9,296.7 160.5,291.4 162.9,290.1 165.0,291.4 167.7,293.1 171.2,292.8 173.0,294.9 175.7,292.2 178.4,290.1 180.5,289.6 182.3,288.7 184.3,292.8 188.2,292.8 190.9,297.6 192.3,298.1 194.1,288.7 196.2,294.9 198.9,295.8 201.6,293.5 204.3,294.9 207.3,296.7 209.6,294.9 211.8,293.1 214.1,294.0 216.8,296.7 219.1,298.5 221.2,291.4 223.4,289.0 225.7,295.8 227.5,297.6 229.6,295.3 232.0,297.6 234.3,295.8 236.4,297.2 239.1,296.7 241.8,295.5 244.5,296.7 245.7,299.4 248.0,297.6 249.8,296.7 252.1,294.9 254.3,297.1 257.0,295.8 258.8,297.6 260.5,296.7 263.2,304.8 265.0,299.4 266.8,294.9 268.6,300.3 270.7,294.0 272.7,295.8 273.4,306.5 273.6,253.9 274.8,252.1 275.4,244.9 276.4,244.9 276.8,274.4 277.9,305.6 279.3,308.3 280.7,298.5 281.4,244.9 282.1,310.1 282.9,244.9 283.6,298.5 284.6,297.6 286.1,303.0 288.2,300.3 290.9,302.1 292.7,300.3 294.1,309.2 295.7,296.7 297.1,295.8 298.6,304.8 299.8,307.4 300.7,303.9 301.4,244.9 302.0,268.1 302.9,244.9 303.4,264.6 303.9,244.9 304.6,244.9 305.2,309.2 306.4,298.5 307.1,246.7 307.7,312.8 308.6,253.9 309.3,246.7 310.0,307.4 311.4,303.9 313.2,302.1 315.0,305.6 316.4,307.4 317.9,312.8 318.6,246.7 319.3,273.5 320.4,298.5 321.8,300.3 323.2,297.6 325.0,298.5 326.1,296.7 327.5,312.8 328.4,298.5 329.8,296.7 331.4,304.8 332.9,298.5 334.6,292.8 336.4,295.8 337.9,294.9 339.3,297.6 341.1,298.5 342.7,298.5 343.6,280.6 345.0,278.0 346.1,278.9 347.5,268.7 348.9,274.4 349.8,288.7 351.6,289.6 353.9,290.5 355.7,294.9 357.5,294.0 359.6,288.7 361.4,292.2 364.1,291.4 366.8,289.6 369.5,293.1 372.1,293.1 375.7,292.2 379.3,291.7 382.9,290.5 386.4,294.0 389.1,292.8 390.9,294.6 393.6,292.2 396.2,293.5 398.9,292.2 401.6,292.8 405.2,291.0 408.8,291.7 412.3,291.0 415.9,291.4 418.6,292.8 420.4,294.0 423.0,292.2 425.7,291.7" fill="none" stroke="#ff0000" stroke-width="1.7" stroke-linejoin="miter" />
<rect x="70" y="335" width="322" height="178" fill="#ececf0"/>
<rect x="70" y="335" width="321" height="177" fill="#d6d6dc"/>
<rect x="71" y="336" width="319" height="175" fill="url(#g1)"/>
<line x1="71" y1="340.5" x2="390" y2="340.5" stroke="#e4e4e0" stroke-width="1" stroke-dasharray="1 5" shape-rendering="crispEdges"/>
<line x1="71" y1="357.5" x2="390" y2="357.5" stroke="#e4e4e0" stroke-width="1" stroke-dasharray="1 5" shape-rendering="crispEdges"/>
<line x1="71" y1="373.5" x2="390" y2="373.5" stroke="#e4e4e0" stroke-width="1" stroke-dasharray="1 5" shape-rendering="crispEdges"/>
<line x1="71" y1="390.5" x2="390" y2="390.5" stroke="#e4e4e0" stroke-width="1" stroke-dasharray="1 5" shape-rendering="crispEdges"/>
<line x1="71" y1="407.5" x2="390" y2="407.5" stroke="#e4e4e0" stroke-width="1" stroke-dasharray="1 5" shape-rendering="crispEdges"/>
<line x1="71" y1="424.5" x2="390" y2="424.5" stroke="#e4e4e0" stroke-width="1" stroke-dasharray="1 5" shape-rendering="crispEdges"/>
<line x1="71" y1="440.5" x2="390" y2="440.5" stroke="#e4e4e0" stroke-width="1" stroke-dasharray="1 5" shape-rendering="crispEdges"/>
<line x1="71" y1="457.5" x2="390" y2="457.5" stroke="#e4e4e0" stroke-width="1" stroke-dasharray="1 5" shape-rendering="crispEdges"/>
<line x1="71" y1="474.5" x2="390" y2="474.5" stroke="#e4e4e0" stroke-width="1" stroke-dasharray="1 5" shape-rendering="crispEdges"/>
<line x1="71" y1="490.5" x2="390" y2="490.5" stroke="#e4e4e0" stroke-width="1" stroke-dasharray="1 5" shape-rendering="crispEdges"/>
<line x1="71" y1="507.5" x2="390" y2="507.5" stroke="#e4e4e0" stroke-width="1" stroke-dasharray="1 5" shape-rendering="crispEdges"/>
<line x1="89.5" y1="336" x2="89.5" y2="511" stroke="#e4e4e0" stroke-width="1" stroke-dasharray="1 5" shape-rendering="crispEdges"/>
<line x1="115.5" y1="336" x2="115.5" y2="511" stroke="#e4e4e0" stroke-width="1" stroke-dasharray="1 5" shape-rendering="crispEdges"/>
<line x1="141.5" y1="336" x2="141.5" y2="511" stroke="#e4e4e0" stroke-width="1" stroke-dasharray="1 5" shape-rendering="crispEdges"/>
<line x1="167.5" y1="336" x2="167.5" y2="511" stroke="#e4e4e0" stroke-width="1" stroke-dasharray="1 5" shape-rendering="crispEdges"/>
<line x1="193.5" y1="336" x2="193.5" y2="511" stroke="#e4e4e0" stroke-width="1" stroke-dasharray="1 5" shape-rendering="crispEdges"/>
<line x1="219.5" y1="336" x2="219.5" y2="511" stroke="#e4e4e0" stroke-width="1" stroke-dasharray="1 5" shape-rendering="crispEdges"/>
<line x1="245.5" y1="336" x2="245.5" y2="511" stroke="#e4e4e0" stroke-width="1" stroke-dasharray="1 5" shape-rendering="crispEdges"/>
<line x1="270.5" y1="336" x2="270.5" y2="511" stroke="#e4e4e0" stroke-width="1" stroke-dasharray="1 5" shape-rendering="crispEdges"/>
<line x1="296.5" y1="336" x2="296.5" y2="511" stroke="#e4e4e0" stroke-width="1" stroke-dasharray="1 5" shape-rendering="crispEdges"/>
<line x1="322.5" y1="336" x2="322.5" y2="511" stroke="#e4e4e0" stroke-width="1" stroke-dasharray="1 5" shape-rendering="crispEdges"/>
<line x1="348.5" y1="336" x2="348.5" y2="511" stroke="#e4e4e0" stroke-width="1" stroke-dasharray="1 5" shape-rendering="crispEdges"/>
<line x1="374.5" y1="336" x2="374.5" y2="511" stroke="#e4e4e0" stroke-width="1" stroke-dasharray="1 5" shape-rendering="crispEdges"/>
<text x="1" y="330.5" fill="#ff0000" stroke="#ff0000" stroke-width="0.15" font-size="12" text-anchor="start" textLength="59" lengthAdjust="spacingAndGlyphs" >Rainfall (mm)</text>
<text x="66.8" y="330.5" fill="#0000ff" stroke="#0000ff" stroke-width="0.15" font-size="12" text-anchor="start" textLength="56" lengthAdjust="spacingAndGlyphs" >Humidity (%)</text>
<text x="119.8" y="330.5" fill="#808000" stroke="#808000" stroke-width="0.15" font-size="12" text-anchor="start" textLength="58" lengthAdjust="spacingAndGlyphs" >thgr810 vlag</text>
<text x="172.9" y="330.5" fill="#b00040" stroke="#b00040" stroke-width="0.15" font-size="12" text-anchor="start" textLength="44" lengthAdjust="spacingAndGlyphs" >Max solar</text>
<text x="242.5" y="330.5" fill="#ff00ff" stroke="#ff00ff" stroke-width="0.15" font-size="12" text-anchor="start" textLength="14" lengthAdjust="spacingAndGlyphs" >UV</text>
<text x="313.3" y="330.5" fill="#008000" stroke="#008000" stroke-width="0.15" font-size="12" text-anchor="start" textLength="79" lengthAdjust="spacingAndGlyphs" >Temperature (°C)</text>
<rect x="51.00" y="336" width="2" height="176.80" fill="#0000ff"/>
<rect x="48" y="509.00" width="3.50" height="1" fill="#0000ff"/>
<text x="45" y="511.79999999999995" fill="#0000ff" stroke="#0000ff" stroke-width="0.3" font-size="8" text-anchor="end" >0</text>
<rect x="50" y="505.00" width="1.50" height="1" fill="#0000ff"/>
<rect x="50" y="500.00" width="1.50" height="1" fill="#0000ff"/>
<rect x="50" y="496.00" width="1.50" height="1" fill="#0000ff"/>
<rect x="48" y="492.00" width="3.50" height="1" fill="#0000ff"/>
<text x="45" y="494.71" fill="#0000ff" stroke="#0000ff" stroke-width="0.3" font-size="8" text-anchor="end" textLength="7.5" lengthAdjust="spacingAndGlyphs" >10</text>
<rect x="50" y="488.00" width="1.50" height="1" fill="#0000ff"/>
<rect x="50" y="483.00" width="1.50" height="1" fill="#0000ff"/>
<rect x="50" y="479.00" width="1.50" height="1" fill="#0000ff"/>
<rect x="48" y="475.00" width="3.50" height="1" fill="#0000ff"/>
<text x="45" y="477.61999999999995" fill="#0000ff" stroke="#0000ff" stroke-width="0.3" font-size="8" text-anchor="end" textLength="9.5" lengthAdjust="spacingAndGlyphs" >20</text>
<rect x="50" y="470.00" width="1.50" height="1" fill="#0000ff"/>
<rect x="50" y="466.00" width="1.50" height="1" fill="#0000ff"/>
<rect x="50" y="462.00" width="1.50" height="1" fill="#0000ff"/>
<rect x="48" y="458.00" width="3.50" height="1" fill="#0000ff"/>
<text x="45" y="460.53" fill="#0000ff" stroke="#0000ff" stroke-width="0.3" font-size="8" text-anchor="end" textLength="9.5" lengthAdjust="spacingAndGlyphs" >30</text>
<rect x="50" y="453.00" width="1.50" height="1" fill="#0000ff"/>
<rect x="50" y="449.00" width="1.50" height="1" fill="#0000ff"/>
<rect x="50" y="445.00" width="1.50" height="1" fill="#0000ff"/>
<rect x="48" y="441.00" width="3.50" height="1" fill="#0000ff"/>
<text x="45" y="443.43999999999994" fill="#0000ff" stroke="#0000ff" stroke-width="0.3" font-size="8" text-anchor="end" textLength="9.5" lengthAdjust="spacingAndGlyphs" >40</text>
<rect x="50" y="436.00" width="1.50" height="1" fill="#0000ff"/>
<rect x="50" y="432.00" width="1.50" height="1" fill="#0000ff"/>
<rect x="50" y="428.00" width="1.50" height="1" fill="#0000ff"/>
<rect x="48" y="423.00" width="3.50" height="1" fill="#0000ff"/>
<text x="45" y="426.34999999999997" fill="#0000ff" stroke="#0000ff" stroke-width="0.3" font-size="8" text-anchor="end" textLength="9.5" lengthAdjust="spacingAndGlyphs" >50</text>
<rect x="50" y="419.00" width="1.50" height="1" fill="#0000ff"/>
<rect x="50" y="415.00" width="1.50" height="1" fill="#0000ff"/>
<rect x="50" y="411.00" width="1.50" height="1" fill="#0000ff"/>
<rect x="48" y="406.00" width="3.50" height="1" fill="#0000ff"/>
<text x="45" y="409.25999999999993" fill="#0000ff" stroke="#0000ff" stroke-width="0.3" font-size="8" text-anchor="end" textLength="9.5" lengthAdjust="spacingAndGlyphs" >60</text>
<rect x="50" y="402.00" width="1.50" height="1" fill="#0000ff"/>
<rect x="50" y="398.00" width="1.50" height="1" fill="#0000ff"/>
<rect x="50" y="394.00" width="1.50" height="1" fill="#0000ff"/>
<rect x="48" y="389.00" width="3.50" height="1" fill="#0000ff"/>
<text x="45" y="392.16999999999996" fill="#0000ff" stroke="#0000ff" stroke-width="0.3" font-size="8" text-anchor="end" textLength="9.5" lengthAdjust="spacingAndGlyphs" >70</text>
<rect x="50" y="385.00" width="1.50" height="1" fill="#0000ff"/>
<rect x="50" y="381.00" width="1.50" height="1" fill="#0000ff"/>
<rect x="50" y="376.00" width="1.50" height="1" fill="#0000ff"/>
<rect x="48" y="372.00" width="3.50" height="1" fill="#0000ff"/>
<text x="45" y="375.0799999999999" fill="#0000ff" stroke="#0000ff" stroke-width="0.3" font-size="8" text-anchor="end" textLength="9.5" lengthAdjust="spacingAndGlyphs" >80</text>
<rect x="50" y="368.00" width="1.50" height="1" fill="#0000ff"/>
<rect x="50" y="364.00" width="1.50" height="1" fill="#0000ff"/>
<rect x="50" y="359.00" width="1.50" height="1" fill="#0000ff"/>
<rect x="48" y="355.00" width="3.50" height="1" fill="#0000ff"/>
<text x="45" y="357.98999999999995" fill="#0000ff" stroke="#0000ff" stroke-width="0.3" font-size="8" text-anchor="end" textLength="9.5" lengthAdjust="spacingAndGlyphs" >90</text>
<rect x="50" y="351.00" width="1.50" height="1" fill="#0000ff"/>
<rect x="50" y="347.00" width="1.50" height="1" fill="#0000ff"/>
<rect x="50" y="342.00" width="1.50" height="1" fill="#0000ff"/>
<rect x="48" y="338.00" width="3.50" height="1" fill="#0000ff"/>
<text x="45" y="340.9" fill="#0000ff" stroke="#0000ff" stroke-width="0.3" font-size="8" text-anchor="end" textLength="12.5" lengthAdjust="spacingAndGlyphs" >100</text>
<rect x="66.2" y="509.00" width="3.80" height="1" fill="#ff0000"/>
<text x="63.2" y="511.79999999999995" fill="#ff0000" stroke="#ff0000" stroke-width="0.3" font-size="8" text-anchor="end" >0</text>
<rect x="68" y="506.00" width="2.00" height="1" fill="#ff0000"/>
<rect x="68" y="503.00" width="2.00" height="1" fill="#ff0000"/>
<rect x="68" y="500.00" width="2.00" height="1" fill="#ff0000"/>
<rect x="66.2" y="498.00" width="3.80" height="1" fill="#ff0000"/>
<text x="63.2" y="500.40599999999995" fill="#ff0000" stroke="#ff0000" stroke-width="0.3" font-size="8" text-anchor="end" >2</text>
<rect x="68" y="495.00" width="2.00" height="1" fill="#ff0000"/>
<rect x="68" y="492.00" width="2.00" height="1" fill="#ff0000"/>
<rect x="68" y="489.00" width="2.00" height="1" fill="#ff0000"/>
<rect x="66.2" y="486.00" width="3.80" height="1" fill="#ff0000"/>
<text x="63.2" y="489.01199999999994" fill="#ff0000" stroke="#ff0000" stroke-width="0.3" font-size="8" text-anchor="end" >4</text>
<rect x="68" y="483.00" width="2.00" height="1" fill="#ff0000"/>
<rect x="68" y="480.00" width="2.00" height="1" fill="#ff0000"/>
<rect x="68" y="478.00" width="2.00" height="1" fill="#ff0000"/>
<rect x="66.2" y="475.00" width="3.80" height="1" fill="#ff0000"/>
<text x="63.2" y="477.61799999999994" fill="#ff0000" stroke="#ff0000" stroke-width="0.3" font-size="8" text-anchor="end" >6</text>
<rect x="68" y="472.00" width="2.00" height="1" fill="#ff0000"/>
<rect x="68" y="469.00" width="2.00" height="1" fill="#ff0000"/>
<rect x="68" y="466.00" width="2.00" height="1" fill="#ff0000"/>
<rect x="66.2" y="463.00" width="3.80" height="1" fill="#ff0000"/>
<text x="63.2" y="466.22399999999993" fill="#ff0000" stroke="#ff0000" stroke-width="0.3" font-size="8" text-anchor="end" >8</text>
<rect x="68" y="460.00" width="2.00" height="1" fill="#ff0000"/>
<rect x="68" y="458.00" width="2.00" height="1" fill="#ff0000"/>
<rect x="68" y="455.00" width="2.00" height="1" fill="#ff0000"/>
<rect x="66.2" y="452.00" width="3.80" height="1" fill="#ff0000"/>
<text x="63.2" y="454.8299999999999" fill="#ff0000" stroke="#ff0000" stroke-width="0.3" font-size="8" text-anchor="end" textLength="7.5" lengthAdjust="spacingAndGlyphs" >10</text>
<rect x="68" y="449.00" width="2.00" height="1" fill="#ff0000"/>
<rect x="68" y="446.00" width="2.00" height="1" fill="#ff0000"/>
<rect x="68" y="443.00" width="2.00" height="1" fill="#ff0000"/>
<rect x="66.2" y="441.00" width="3.80" height="1" fill="#ff0000"/>
<text x="63.2" y="443.4359999999999" fill="#ff0000" stroke="#ff0000" stroke-width="0.3" font-size="8" text-anchor="end" textLength="7.5" lengthAdjust="spacingAndGlyphs" >12</text>
<rect x="68" y="438.00" width="2.00" height="1" fill="#ff0000"/>
<rect x="68" y="435.00" width="2.00" height="1" fill="#ff0000"/>
<rect x="68" y="432.00" width="2.00" height="1" fill="#ff0000"/>
<rect x="66.2" y="429.00" width="3.80" height="1" fill="#ff0000"/>
<text x="63.2" y="432.042" fill="#ff0000" stroke="#ff0000" stroke-width="0.3" font-size="8" text-anchor="end" textLength="7.5" lengthAdjust="spacingAndGlyphs" >14</text>
<rect x="68" y="426.00" width="2.00" height="1" fill="#ff0000"/>
<rect x="68" y="423.00" width="2.00" height="1" fill="#ff0000"/>
<rect x="68" y="421.00" width="2.00" height="1" fill="#ff0000"/>
<rect x="66.2" y="418.00" width="3.80" height="1" fill="#ff0000"/>
<text x="63.2" y="420.64799999999997" fill="#ff0000" stroke="#ff0000" stroke-width="0.3" font-size="8" text-anchor="end" textLength="7.5" lengthAdjust="spacingAndGlyphs" >16</text>
<rect x="68" y="415.00" width="2.00" height="1" fill="#ff0000"/>
<rect x="68" y="412.00" width="2.00" height="1" fill="#ff0000"/>
<rect x="68" y="409.00" width="2.00" height="1" fill="#ff0000"/>
<rect x="66.2" y="406.00" width="3.80" height="1" fill="#ff0000"/>
<text x="63.2" y="409.25399999999996" fill="#ff0000" stroke="#ff0000" stroke-width="0.3" font-size="8" text-anchor="end" textLength="7.5" lengthAdjust="spacingAndGlyphs" >18</text>
<rect x="68" y="404.00" width="2.00" height="1" fill="#ff0000"/>
<rect x="68" y="401.00" width="2.00" height="1" fill="#ff0000"/>
<rect x="68" y="398.00" width="2.00" height="1" fill="#ff0000"/>
<rect x="66.2" y="395.00" width="3.80" height="1" fill="#ff0000"/>
<text x="63.2" y="397.85999999999996" fill="#ff0000" stroke="#ff0000" stroke-width="0.3" font-size="8" text-anchor="end" textLength="9.5" lengthAdjust="spacingAndGlyphs" >20</text>
<rect x="68" y="392.00" width="2.00" height="1" fill="#ff0000"/>
<rect x="68" y="389.00" width="2.00" height="1" fill="#ff0000"/>
<rect x="68" y="386.00" width="2.00" height="1" fill="#ff0000"/>
<rect x="66.2" y="384.00" width="3.80" height="1" fill="#ff0000"/>
<text x="63.2" y="386.46599999999995" fill="#ff0000" stroke="#ff0000" stroke-width="0.3" font-size="8" text-anchor="end" textLength="9.5" lengthAdjust="spacingAndGlyphs" >22</text>
<rect x="68" y="381.00" width="2.00" height="1" fill="#ff0000"/>
<rect x="68" y="378.00" width="2.00" height="1" fill="#ff0000"/>
<rect x="68" y="375.00" width="2.00" height="1" fill="#ff0000"/>
<rect x="66.2" y="372.00" width="3.80" height="1" fill="#ff0000"/>
<text x="63.2" y="375.07199999999995" fill="#ff0000" stroke="#ff0000" stroke-width="0.3" font-size="8" text-anchor="end" textLength="9.5" lengthAdjust="spacingAndGlyphs" >24</text>
<rect x="68" y="369.00" width="2.00" height="1" fill="#ff0000"/>
<rect x="68" y="366.00" width="2.00" height="1" fill="#ff0000"/>
<rect x="68" y="364.00" width="2.00" height="1" fill="#ff0000"/>
<rect x="66.2" y="361.00" width="3.80" height="1" fill="#ff0000"/>
<text x="63.2" y="363.67799999999994" fill="#ff0000" stroke="#ff0000" stroke-width="0.3" font-size="8" text-anchor="end" textLength="9.5" lengthAdjust="spacingAndGlyphs" >26</text>
<rect x="68" y="358.00" width="2.00" height="1" fill="#ff0000"/>
<rect x="68" y="355.00" width="2.00" height="1" fill="#ff0000"/>
<rect x="68" y="352.00" width="2.00" height="1" fill="#ff0000"/>
<rect x="66.2" y="349.00" width="3.80" height="1" fill="#ff0000"/>
<text x="63.2" y="352.284" fill="#ff0000" stroke="#ff0000" stroke-width="0.3" font-size="8" text-anchor="end" textLength="9.5" lengthAdjust="spacingAndGlyphs" >28</text>
<rect x="68" y="347.00" width="2.00" height="1" fill="#ff0000"/>
<rect x="68" y="344.00" width="2.00" height="1" fill="#ff0000"/>
<rect x="68" y="341.00" width="2.00" height="1" fill="#ff0000"/>
<rect x="66.2" y="338.00" width="3.80" height="1" fill="#ff0000"/>
<text x="63.2" y="340.89" fill="#ff0000" stroke="#ff0000" stroke-width="0.3" font-size="8" text-anchor="end" textLength="9.5" lengthAdjust="spacingAndGlyphs" >30</text>
<rect x="392" y="509.00" width="4.30" height="1" fill="#008000"/>
<text x="398.8" y="511.79999999999995" fill="#008000" stroke="#008000" stroke-width="0.3" font-size="8" text-anchor="start" >0</text>
<rect x="392" y="506.00" width="2.00" height="1" fill="#008000"/>
<rect x="392" y="503.00" width="2.00" height="1" fill="#008000"/>
<rect x="392" y="500.00" width="2.00" height="1" fill="#008000"/>
<rect x="392" y="498.00" width="4.30" height="1" fill="#008000"/>
<text x="398.8" y="500.40599999999995" fill="#008000" stroke="#008000" stroke-width="0.3" font-size="8" text-anchor="start" >2</text>
<rect x="392" y="495.00" width="2.00" height="1" fill="#008000"/>
<rect x="392" y="492.00" width="2.00" height="1" fill="#008000"/>
<rect x="392" y="489.00" width="2.00" height="1" fill="#008000"/>
<rect x="392" y="486.00" width="4.30" height="1" fill="#008000"/>
<text x="398.8" y="489.01199999999994" fill="#008000" stroke="#008000" stroke-width="0.3" font-size="8" text-anchor="start" >4</text>
<rect x="392" y="483.00" width="2.00" height="1" fill="#008000"/>
<rect x="392" y="480.00" width="2.00" height="1" fill="#008000"/>
<rect x="392" y="478.00" width="2.00" height="1" fill="#008000"/>
<rect x="392" y="475.00" width="4.30" height="1" fill="#008000"/>
<text x="398.8" y="477.61799999999994" fill="#008000" stroke="#008000" stroke-width="0.3" font-size="8" text-anchor="start" >6</text>
<rect x="392" y="472.00" width="2.00" height="1" fill="#008000"/>
<rect x="392" y="469.00" width="2.00" height="1" fill="#008000"/>
<rect x="392" y="466.00" width="2.00" height="1" fill="#008000"/>
<rect x="392" y="463.00" width="4.30" height="1" fill="#008000"/>
<text x="398.8" y="466.22399999999993" fill="#008000" stroke="#008000" stroke-width="0.3" font-size="8" text-anchor="start" >8</text>
<rect x="392" y="460.00" width="2.00" height="1" fill="#008000"/>
<rect x="392" y="458.00" width="2.00" height="1" fill="#008000"/>
<rect x="392" y="455.00" width="2.00" height="1" fill="#008000"/>
<rect x="392" y="452.00" width="4.30" height="1" fill="#008000"/>
<text x="398.8" y="454.8299999999999" fill="#008000" stroke="#008000" stroke-width="0.3" font-size="8" text-anchor="start" textLength="7.5" lengthAdjust="spacingAndGlyphs" >10</text>
<rect x="392" y="449.00" width="2.00" height="1" fill="#008000"/>
<rect x="392" y="446.00" width="2.00" height="1" fill="#008000"/>
<rect x="392" y="443.00" width="2.00" height="1" fill="#008000"/>
<rect x="392" y="441.00" width="4.30" height="1" fill="#008000"/>
<text x="398.8" y="443.4359999999999" fill="#008000" stroke="#008000" stroke-width="0.3" font-size="8" text-anchor="start" textLength="7.5" lengthAdjust="spacingAndGlyphs" >12</text>
<rect x="392" y="438.00" width="2.00" height="1" fill="#008000"/>
<rect x="392" y="435.00" width="2.00" height="1" fill="#008000"/>
<rect x="392" y="432.00" width="2.00" height="1" fill="#008000"/>
<rect x="392" y="429.00" width="4.30" height="1" fill="#008000"/>
<text x="398.8" y="432.042" fill="#008000" stroke="#008000" stroke-width="0.3" font-size="8" text-anchor="start" textLength="7.5" lengthAdjust="spacingAndGlyphs" >14</text>
<rect x="392" y="426.00" width="2.00" height="1" fill="#008000"/>
<rect x="392" y="423.00" width="2.00" height="1" fill="#008000"/>
<rect x="392" y="421.00" width="2.00" height="1" fill="#008000"/>
<rect x="392" y="418.00" width="4.30" height="1" fill="#008000"/>
<text x="398.8" y="420.64799999999997" fill="#008000" stroke="#008000" stroke-width="0.3" font-size="8" text-anchor="start" textLength="7.5" lengthAdjust="spacingAndGlyphs" >16</text>
<rect x="392" y="415.00" width="2.00" height="1" fill="#008000"/>
<rect x="392" y="412.00" width="2.00" height="1" fill="#008000"/>
<rect x="392" y="409.00" width="2.00" height="1" fill="#008000"/>
<rect x="392" y="406.00" width="4.30" height="1" fill="#008000"/>
<text x="398.8" y="409.25399999999996" fill="#008000" stroke="#008000" stroke-width="0.3" font-size="8" text-anchor="start" textLength="7.5" lengthAdjust="spacingAndGlyphs" >18</text>
<rect x="392" y="404.00" width="2.00" height="1" fill="#008000"/>
<rect x="392" y="401.00" width="2.00" height="1" fill="#008000"/>
<rect x="392" y="398.00" width="2.00" height="1" fill="#008000"/>
<rect x="392" y="395.00" width="4.30" height="1" fill="#008000"/>
<text x="398.8" y="397.85999999999996" fill="#008000" stroke="#008000" stroke-width="0.3" font-size="8" text-anchor="start" textLength="9.5" lengthAdjust="spacingAndGlyphs" >20</text>
<rect x="392" y="392.00" width="2.00" height="1" fill="#008000"/>
<rect x="392" y="389.00" width="2.00" height="1" fill="#008000"/>
<rect x="392" y="386.00" width="2.00" height="1" fill="#008000"/>
<rect x="392" y="384.00" width="4.30" height="1" fill="#008000"/>
<text x="398.8" y="386.46599999999995" fill="#008000" stroke="#008000" stroke-width="0.3" font-size="8" text-anchor="start" textLength="9.5" lengthAdjust="spacingAndGlyphs" >22</text>
<rect x="392" y="381.00" width="2.00" height="1" fill="#008000"/>
<rect x="392" y="378.00" width="2.00" height="1" fill="#008000"/>
<rect x="392" y="375.00" width="2.00" height="1" fill="#008000"/>
<rect x="392" y="372.00" width="4.30" height="1" fill="#008000"/>
<text x="398.8" y="375.07199999999995" fill="#008000" stroke="#008000" stroke-width="0.3" font-size="8" text-anchor="start" textLength="9.5" lengthAdjust="spacingAndGlyphs" >24</text>
<rect x="392" y="369.00" width="2.00" height="1" fill="#008000"/>
<rect x="392" y="366.00" width="2.00" height="1" fill="#008000"/>
<rect x="392" y="364.00" width="2.00" height="1" fill="#008000"/>
<rect x="392" y="361.00" width="4.30" height="1" fill="#008000"/>
<text x="398.8" y="363.67799999999994" fill="#008000" stroke="#008000" stroke-width="0.3" font-size="8" text-anchor="start" textLength="9.5" lengthAdjust="spacingAndGlyphs" >26</text>
<rect x="392" y="358.00" width="2.00" height="1" fill="#008000"/>
<rect x="392" y="355.00" width="2.00" height="1" fill="#008000"/>
<rect x="392" y="352.00" width="2.00" height="1" fill="#008000"/>
<rect x="392" y="349.00" width="4.30" height="1" fill="#008000"/>
<text x="398.8" y="352.284" fill="#008000" stroke="#008000" stroke-width="0.3" font-size="8" text-anchor="start" textLength="9.5" lengthAdjust="spacingAndGlyphs" >28</text>
<rect x="392" y="347.00" width="2.00" height="1" fill="#008000"/>
<rect x="392" y="344.00" width="2.00" height="1" fill="#008000"/>
<rect x="392" y="341.00" width="2.00" height="1" fill="#008000"/>
<rect x="392" y="338.00" width="4.30" height="1" fill="#008000"/>
<text x="398.8" y="340.89" fill="#008000" stroke="#008000" stroke-width="0.3" font-size="8" text-anchor="start" textLength="9.5" lengthAdjust="spacingAndGlyphs" >30</text>
<rect x="409.00" y="336" width="2" height="176.80" fill="#ff00ff"/>
<rect x="411" y="509.00" width="4.00" height="1" fill="#ff00ff"/>
<text x="417.9" y="511.79999999999995" fill="#ff00ff" stroke="#ff00ff" stroke-width="0.3" font-size="8" text-anchor="start" >0</text>
<rect x="411" y="506.00" width="2.00" height="1" fill="#ff00ff"/>
<rect x="411" y="503.00" width="2.00" height="1" fill="#ff00ff"/>
<rect x="411" y="500.00" width="2.00" height="1" fill="#ff00ff"/>
<rect x="411" y="498.00" width="4.00" height="1" fill="#ff00ff"/>
<text x="417.9" y="500.40599999999995" fill="#ff00ff" stroke="#ff00ff" stroke-width="0.3" font-size="8" text-anchor="start" >1</text>
<rect x="411" y="495.00" width="2.00" height="1" fill="#ff00ff"/>
<rect x="411" y="492.00" width="2.00" height="1" fill="#ff00ff"/>
<rect x="411" y="489.00" width="2.00" height="1" fill="#ff00ff"/>
<rect x="411" y="486.00" width="4.00" height="1" fill="#ff00ff"/>
<text x="417.9" y="489.01199999999994" fill="#ff00ff" stroke="#ff00ff" stroke-width="0.3" font-size="8" text-anchor="start" >2</text>
<rect x="411" y="483.00" width="2.00" height="1" fill="#ff00ff"/>
<rect x="411" y="480.00" width="2.00" height="1" fill="#ff00ff"/>
<rect x="411" y="478.00" width="2.00" height="1" fill="#ff00ff"/>
<rect x="411" y="475.00" width="4.00" height="1" fill="#ff00ff"/>
<text x="417.9" y="477.61799999999994" fill="#ff00ff" stroke="#ff00ff" stroke-width="0.3" font-size="8" text-anchor="start" >3</text>
<rect x="411" y="472.00" width="2.00" height="1" fill="#ff00ff"/>
<rect x="411" y="469.00" width="2.00" height="1" fill="#ff00ff"/>
<rect x="411" y="466.00" width="2.00" height="1" fill="#ff00ff"/>
<rect x="411" y="463.00" width="4.00" height="1" fill="#ff00ff"/>
<text x="417.9" y="466.22399999999993" fill="#ff00ff" stroke="#ff00ff" stroke-width="0.3" font-size="8" text-anchor="start" >4</text>
<rect x="411" y="460.00" width="2.00" height="1" fill="#ff00ff"/>
<rect x="411" y="458.00" width="2.00" height="1" fill="#ff00ff"/>
<rect x="411" y="455.00" width="2.00" height="1" fill="#ff00ff"/>
<rect x="411" y="452.00" width="4.00" height="1" fill="#ff00ff"/>
<text x="417.9" y="454.8299999999999" fill="#ff00ff" stroke="#ff00ff" stroke-width="0.3" font-size="8" text-anchor="start" >5</text>
<rect x="411" y="449.00" width="2.00" height="1" fill="#ff00ff"/>
<rect x="411" y="446.00" width="2.00" height="1" fill="#ff00ff"/>
<rect x="411" y="443.00" width="2.00" height="1" fill="#ff00ff"/>
<rect x="411" y="441.00" width="4.00" height="1" fill="#ff00ff"/>
<text x="417.9" y="443.4359999999999" fill="#ff00ff" stroke="#ff00ff" stroke-width="0.3" font-size="8" text-anchor="start" >6</text>
<rect x="411" y="438.00" width="2.00" height="1" fill="#ff00ff"/>
<rect x="411" y="435.00" width="2.00" height="1" fill="#ff00ff"/>
<rect x="411" y="432.00" width="2.00" height="1" fill="#ff00ff"/>
<rect x="411" y="429.00" width="4.00" height="1" fill="#ff00ff"/>
<text x="417.9" y="432.042" fill="#ff00ff" stroke="#ff00ff" stroke-width="0.3" font-size="8" text-anchor="start" >7</text>
<rect x="411" y="426.00" width="2.00" height="1" fill="#ff00ff"/>
<rect x="411" y="423.00" width="2.00" height="1" fill="#ff00ff"/>
<rect x="411" y="421.00" width="2.00" height="1" fill="#ff00ff"/>
<rect x="411" y="418.00" width="4.00" height="1" fill="#ff00ff"/>
<text x="417.9" y="420.64799999999997" fill="#ff00ff" stroke="#ff00ff" stroke-width="0.3" font-size="8" text-anchor="start" >8</text>
<rect x="411" y="415.00" width="2.00" height="1" fill="#ff00ff"/>
<rect x="411" y="412.00" width="2.00" height="1" fill="#ff00ff"/>
<rect x="411" y="409.00" width="2.00" height="1" fill="#ff00ff"/>
<rect x="411" y="406.00" width="4.00" height="1" fill="#ff00ff"/>
<text x="417.9" y="409.25399999999996" fill="#ff00ff" stroke="#ff00ff" stroke-width="0.3" font-size="8" text-anchor="start" >9</text>
<rect x="411" y="404.00" width="2.00" height="1" fill="#ff00ff"/>
<rect x="411" y="401.00" width="2.00" height="1" fill="#ff00ff"/>
<rect x="411" y="398.00" width="2.00" height="1" fill="#ff00ff"/>
<rect x="411" y="395.00" width="4.00" height="1" fill="#ff00ff"/>
<text x="417.9" y="397.85999999999996" fill="#ff00ff" stroke="#ff00ff" stroke-width="0.3" font-size="8" text-anchor="start" textLength="7.5" lengthAdjust="spacingAndGlyphs" >10</text>
<rect x="411" y="392.00" width="2.00" height="1" fill="#ff00ff"/>
<rect x="411" y="389.00" width="2.00" height="1" fill="#ff00ff"/>
<rect x="411" y="386.00" width="2.00" height="1" fill="#ff00ff"/>
<rect x="411" y="384.00" width="4.00" height="1" fill="#ff00ff"/>
<text x="417.9" y="386.46599999999995" fill="#ff00ff" stroke="#ff00ff" stroke-width="0.3" font-size="8" text-anchor="start" textLength="5.5" lengthAdjust="spacingAndGlyphs" >11</text>
<rect x="411" y="381.00" width="2.00" height="1" fill="#ff00ff"/>
<rect x="411" y="378.00" width="2.00" height="1" fill="#ff00ff"/>
<rect x="411" y="375.00" width="2.00" height="1" fill="#ff00ff"/>
<rect x="411" y="372.00" width="4.00" height="1" fill="#ff00ff"/>
<text x="417.9" y="375.07199999999995" fill="#ff00ff" stroke="#ff00ff" stroke-width="0.3" font-size="8" text-anchor="start" textLength="7.5" lengthAdjust="spacingAndGlyphs" >12</text>
<rect x="411" y="369.00" width="2.00" height="1" fill="#ff00ff"/>
<rect x="411" y="366.00" width="2.00" height="1" fill="#ff00ff"/>
<rect x="411" y="364.00" width="2.00" height="1" fill="#ff00ff"/>
<rect x="411" y="361.00" width="4.00" height="1" fill="#ff00ff"/>
<text x="417.9" y="363.67799999999994" fill="#ff00ff" stroke="#ff00ff" stroke-width="0.3" font-size="8" text-anchor="start" textLength="7.5" lengthAdjust="spacingAndGlyphs" >13</text>
<rect x="411" y="358.00" width="2.00" height="1" fill="#ff00ff"/>
<rect x="411" y="355.00" width="2.00" height="1" fill="#ff00ff"/>
<rect x="411" y="352.00" width="2.00" height="1" fill="#ff00ff"/>
<rect x="411" y="349.00" width="4.00" height="1" fill="#ff00ff"/>
<text x="417.9" y="352.284" fill="#ff00ff" stroke="#ff00ff" stroke-width="0.3" font-size="8" text-anchor="start" textLength="7.5" lengthAdjust="spacingAndGlyphs" >14</text>
<rect x="411" y="347.00" width="2.00" height="1" fill="#ff00ff"/>
<rect x="411" y="344.00" width="2.00" height="1" fill="#ff00ff"/>
<rect x="411" y="341.00" width="2.00" height="1" fill="#ff00ff"/>
<rect x="411" y="338.00" width="4.00" height="1" fill="#ff00ff"/>
<text x="417.9" y="340.89" fill="#ff00ff" stroke="#ff00ff" stroke-width="0.3" font-size="8" text-anchor="start" textLength="7.5" lengthAdjust="spacingAndGlyphs" >15</text>
<rect x="70.00" y="513" width="1" height="2.00" fill="#606060"/>
<rect x="76.00" y="513" width="1" height="2.00" fill="#606060"/>
<rect x="83.00" y="513" width="1" height="2.00" fill="#606060"/>
<rect x="89.00" y="513" width="1" height="4.00" fill="#606060"/>
<text x="89.7" y="525.3" fill="#0000ff" stroke="#0000ff" stroke-width="0.3" font-size="8" text-anchor="middle" textLength="7.5" lengthAdjust="spacingAndGlyphs" >01</text>
<rect x="96.00" y="513" width="1" height="2.00" fill="#606060"/>
<rect x="102.00" y="513" width="1" height="2.00" fill="#606060"/>
<rect x="109.00" y="513" width="1" height="2.00" fill="#606060"/>
<rect x="115.00" y="513" width="1" height="4.00" fill="#606060"/>
<text x="115.7" y="525.3" fill="#0000ff" stroke="#0000ff" stroke-width="0.3" font-size="8" text-anchor="middle" textLength="9.5" lengthAdjust="spacingAndGlyphs" >03</text>
<rect x="122.00" y="513" width="1" height="2.00" fill="#606060"/>
<rect x="128.00" y="513" width="1" height="2.00" fill="#606060"/>
<rect x="135.00" y="513" width="1" height="2.00" fill="#606060"/>
<rect x="141.00" y="513" width="1" height="4.00" fill="#606060"/>
<text x="141.7" y="525.3" fill="#0000ff" stroke="#0000ff" stroke-width="0.3" font-size="8" text-anchor="middle" textLength="9.5" lengthAdjust="spacingAndGlyphs" >05</text>
<rect x="148.00" y="513" width="1" height="2.00" fill="#606060"/>
<rect x="154.00" y="513" width="1" height="2.00" fill="#606060"/>
<rect x="160.00" y="513" width="1" height="2.00" fill="#606060"/>
<rect x="167.00" y="513" width="1" height="4.00" fill="#606060"/>
<text x="167.7" y="525.3" fill="#0000ff" stroke="#0000ff" stroke-width="0.3" font-size="8" text-anchor="middle" textLength="9.5" lengthAdjust="spacingAndGlyphs" >07</text>
<rect x="173.00" y="513" width="1" height="2.00" fill="#606060"/>
<rect x="180.00" y="513" width="1" height="2.00" fill="#606060"/>
<rect x="186.00" y="513" width="1" height="2.00" fill="#606060"/>
<rect x="193.00" y="513" width="1" height="4.00" fill="#606060"/>
<text x="193.7" y="525.3" fill="#0000ff" stroke="#0000ff" stroke-width="0.3" font-size="8" text-anchor="middle" textLength="9.5" lengthAdjust="spacingAndGlyphs" >09</text>
<rect x="199.00" y="513" width="1" height="2.00" fill="#606060"/>
<rect x="206.00" y="513" width="1" height="2.00" fill="#606060"/>
<rect x="212.00" y="513" width="1" height="2.00" fill="#606060"/>
<rect x="219.00" y="513" width="1" height="4.00" fill="#606060"/>
<text x="219.7" y="525.3" fill="#0000ff" stroke="#0000ff" stroke-width="0.3" font-size="8" text-anchor="middle" textLength="5.5" lengthAdjust="spacingAndGlyphs" >11</text>
<rect x="225.00" y="513" width="1" height="2.00" fill="#606060"/>
<rect x="232.00" y="513" width="1" height="2.00" fill="#606060"/>
<rect x="238.00" y="513" width="1" height="2.00" fill="#606060"/>
<rect x="245.00" y="513" width="1" height="4.00" fill="#606060"/>
<text x="245.7" y="525.3" fill="#0000ff" stroke="#0000ff" stroke-width="0.3" font-size="8" text-anchor="middle" textLength="7.5" lengthAdjust="spacingAndGlyphs" >13</text>
<rect x="251.00" y="513" width="1" height="2.00" fill="#606060"/>
<rect x="258.00" y="513" width="1" height="2.00" fill="#606060"/>
<rect x="264.00" y="513" width="1" height="2.00" fill="#606060"/>
<rect x="270.00" y="513" width="1" height="4.00" fill="#606060"/>
<text x="270.7" y="525.3" fill="#0000ff" stroke="#0000ff" stroke-width="0.3" font-size="8" text-anchor="middle" textLength="7.5" lengthAdjust="spacingAndGlyphs" >15</text>
<rect x="277.00" y="513" width="1" height="2.00" fill="#606060"/>
<rect x="283.00" y="513" width="1" height="2.00" fill="#606060"/>
<rect x="290.00" y="513" width="1" height="2.00" fill="#606060"/>
<rect x="296.00" y="513" width="1" height="4.00" fill="#606060"/>
<text x="296.7" y="525.3" fill="#0000ff" stroke="#0000ff" stroke-width="0.3" font-size="8" text-anchor="middle" textLength="7.5" lengthAdjust="spacingAndGlyphs" >17</text>
<rect x="303.00" y="513" width="1" height="2.00" fill="#606060"/>
<rect x="309.00" y="513" width="1" height="2.00" fill="#606060"/>
<rect x="316.00" y="513" width="1" height="2.00" fill="#606060"/>
<rect x="322.00" y="513" width="1" height="4.00" fill="#606060"/>
<text x="322.7" y="525.3" fill="#0000ff" stroke="#0000ff" stroke-width="0.3" font-size="8" text-anchor="middle" textLength="7.5" lengthAdjust="spacingAndGlyphs" >19</text>
<rect x="329.00" y="513" width="1" height="2.00" fill="#606060"/>
<rect x="335.00" y="513" width="1" height="2.00" fill="#606060"/>
<rect x="342.00" y="513" width="1" height="2.00" fill="#606060"/>
<rect x="348.00" y="513" width="1" height="4.00" fill="#606060"/>
<text x="348.7" y="525.3" fill="#0000ff" stroke="#0000ff" stroke-width="0.3" font-size="8" text-anchor="middle" textLength="7.5" lengthAdjust="spacingAndGlyphs" >21</text>
<rect x="355.00" y="513" width="1" height="2.00" fill="#606060"/>
<rect x="361.00" y="513" width="1" height="2.00" fill="#606060"/>
<rect x="368.00" y="513" width="1" height="2.00" fill="#606060"/>
<rect x="374.00" y="513" width="1" height="4.00" fill="#606060"/>
<text x="374.7" y="525.3" fill="#0000ff" stroke="#0000ff" stroke-width="0.3" font-size="8" text-anchor="middle" textLength="9.5" lengthAdjust="spacingAndGlyphs" >23</text>
<rect x="380.00" y="513" width="1" height="2.00" fill="#606060"/>
<rect x="387.00" y="513" width="1" height="2.00" fill="#606060"/>
<polyline points="142.0,509.2 187.2,435.0 193.2,425.6 201.8,410.3 210.3,396.6 218.8,385.5 227.4,378.7 235.9,375.3 241.9,374.4 247.9,375.3 254.7,377.8 260.2,383.8 267.1,391.5 273.9,400.9 280.7,410.3 287.6,420.5 296.1,434.2 340.5,508.8" fill="none" stroke="#c4e2ff" stroke-width="1" stroke-linejoin="miter" shape-rendering="crispEdges"/>
<polyline points="73.3,407.7 73.7,406.0 77.1,406.0 77.9,402.6 87.3,402.6 88.2,400.9 94.2,400.9 95.9,400.0 116.4,400.0 116.7,403.4 128.3,403.4 130.0,406.0 135.1,406.0 136.0,408.2 152.2,408.2 153.1,410.3 155.6,411.1 159.1,412.8 165.9,412.8 168.5,418.8 171.9,423.9 173.6,421.4 176.1,423.9 179.6,425.6 181.3,429.1 186.4,430.8 189.8,433.3 194.9,434.5 201.8,438.4 208.6,439.6 213.7,440.2 217.1,442.2 235.9,442.2 236.8,447.0 256.4,447.3 258.2,447.5 260.0,446.5 261.8,446.0 263.6,447.4 265.4,447.0 267.1,447.1 268.8,446.7 270.5,445.6 309.8,445.6 318.3,442.2 323.4,439.6 330.3,438.4 337.1,436.2 342.2,435.0 349.1,433.3 355.9,431.1 362.7,427.7 367.8,425.1 373.0,423.1 378.1,420.9 383.2,420.0 388.0,418.8" fill="none" stroke="#808000" stroke-width="1" stroke-linejoin="miter" shape-rendering="crispEdges"/>
<polyline points="73.3,434.5 73.7,432.8 77.1,431.1 80.5,428.5 82.2,427.8 83.9,429.2 85.6,428.4 87.3,428.4 89.0,427.6 90.7,428.3 92.5,428.2 94.2,428.2 96.3,425.5 98.4,424.3 101.8,428.5 107.8,432.0 116.4,432.3 123.2,431.1 126.6,429.4 130.0,432.0 133.4,435.0 137.7,437.1 152.2,437.6 157.4,440.8 164.2,440.8 165.9,439.1 169.3,441.9 176.1,442.7 179.6,444.8 181.6,450.7 184.0,451.4 186.4,453.3 188.1,453.7 189.8,454.2 191.5,454.0 193.2,455.0 194.9,456.7 196.6,458.4 198.3,459.6 200.1,459.6 201.8,460.1 203.5,460.7 205.2,461.2 206.9,461.2 208.6,462.4 210.3,462.1 212.0,463.0 260.0,463.0 328.6,463.0 330.3,461.0 333.7,459.3 338.8,456.7 343.9,455.0 349.1,453.3 352.5,450.7 357.6,448.2 362.7,444.8 367.8,442.2 373.0,441.3 388.0,441.3" fill="none" stroke="#0000ff" stroke-width="1" stroke-linejoin="miter" shape-rendering="crispEdges"/>
<polyline points="73.3,400.0 75.4,401.7 78.8,403.1 85.6,403.4 90.7,405.1 101.0,406.3 116.4,406.3 116.7,402.6 121.5,403.4 125.8,404.3 128.3,401.7 135.1,399.2 140.3,398.3 145.4,398.7 152.2,400.0 159.1,398.3 166.7,397.5 168.5,386.4 171.0,382.9 172.7,386.0 176.1,384.7 179.6,378.7 181.3,371.0 184.7,367.6 188.1,365.0 190.7,369.3 193.2,362.5 194.9,357.3 198.3,356.5 201.8,353.9 204.8,349.6 206.9,355.6 208.6,354.8 210.3,353.9 212.0,353.5 213.7,353.1 215.4,356.5 217.1,357.3 218.8,358.2 220.5,359.4 222.2,359.4 223.8,359.4 225.4,359.4 227.0,359.4 228.6,360.1 230.2,359.4 231.8,359.4 233.4,360.1 235.0,360.1 236.6,360.1 238.2,358.7 239.8,358.7 241.4,360.1 243.1,359.4 244.7,359.4 246.3,359.4 247.9,359.4 249.6,356.5 251.3,356.8 253.0,355.0 254.7,355.3 256.4,356.1 258.1,357.0 260.0,356.5 255.1,354.8 256.8,355.3 258.5,355.2 260.2,356.5 262.0,355.6 263.7,355.5 265.4,355.4 267.1,356.0 268.8,356.0 270.5,356.0 272.2,356.0 273.9,355.3 275.6,355.3 277.3,356.0 279.0,357.3 280.7,357.1 282.5,358.2 284.2,358.7 285.9,357.7 287.6,357.3 289.3,357.7 291.0,356.9 292.7,356.8 294.4,357.5 296.1,357.4 297.8,357.3 301.2,359.0 308.1,360.4 314.9,362.5 320.0,365.0 325.1,367.6 330.3,371.8 335.4,376.1 340.5,380.9 345.6,383.8 350.8,388.1 355.9,388.9 362.7,390.1 369.6,393.2 376.4,394.9 383.2,396.3 388.0,397.5" fill="none" stroke="#b00040" stroke-width="1" stroke-linejoin="miter" shape-rendering="crispEdges"/>
<polyline points="73.3,401.7 77.1,404.3 82.2,403.4 87.3,403.8 92.5,406.0 97.6,409.9 102.7,404.3 109.5,402.6 114.7,401.7 119.8,404.3 125.8,406.0 131.7,401.7 136.9,400.0 142.0,398.3 147.1,399.2 152.2,400.0 159.1,398.3 166.7,398.0 171.0,392.3 174.4,390.6 177.8,387.2 181.3,382.9 184.7,377.8 188.1,375.3 190.7,378.7 192.4,373.5 194.1,370.1 196.6,368.9 198.3,368.5 200.1,365.4 201.8,365.0 203.5,363.7 205.2,362.5 206.9,361.9 208.6,361.3 210.3,360.7 212.0,359.4 213.7,358.9 215.4,359.4 217.1,358.4 218.8,358.2 220.5,359.0 222.3,358.5 224.0,358.8 225.7,357.3 227.4,356.0 229.1,356.4 230.8,356.0 232.5,355.2 234.2,356.3 235.9,356.5 237.6,355.9 239.3,355.3 241.0,354.8 242.7,354.2 244.5,354.5 246.2,353.1 247.9,356.5 249.6,354.3 251.3,352.2 253.0,350.7 254.7,351.1 256.4,350.5 258.2,351.2 260.0,351.9 255.1,350.5 256.8,351.1 258.5,350.7 260.2,352.2 262.0,352.1 263.7,352.0 265.4,352.8 267.1,351.9 268.8,352.5 270.5,353.1 272.2,350.7 273.9,351.1 275.6,348.8 277.3,349.2 279.0,351.3 280.7,352.0 282.5,349.9 284.2,350.5 285.9,351.0 287.6,352.3 289.3,351.9 291.0,349.3 292.7,348.4 294.4,348.9 296.1,348.4 297.8,349.7 299.5,350.2 301.2,350.4 302.9,351.5 304.7,350.8 306.4,350.7 308.1,352.3 309.8,353.1 311.5,353.8 313.2,353.6 314.9,355.3 318.3,357.3 321.7,361.6 325.1,365.9 328.6,371.0 332.0,375.3 335.4,379.5 338.8,382.6 343.9,385.5 349.1,389.8 355.9,390.6 361.0,390.6 366.1,393.2 373.0,396.3 379.8,397.1 388.0,398.0" fill="none" stroke="#008000" stroke-width="1" stroke-linejoin="miter" shape-rendering="crispEdges"/>
<rect x="73" y="508.2" width="316" height="2.2" fill="#ff0000"/>
<rect x="73.3" y="502" width="3" height="7" fill="#ff0000"/>
<rect x="147.80" y="487.5" width="1" height="21.50" fill="#ffffff"/>
<rect x="148.30" y="500" width="1" height="12.50" fill="#ffee00"/>
<rect x="145.70" y="506" width="1" height="6.50" fill="#ffffff"/>
<rect x="341.90" y="487.5" width="1" height="21.50" fill="#ffffff"/>
<rect x="342.10" y="500" width="1" height="12.50" fill="#ffee00"/>
<rect x="329.80" y="505" width="1" height="7.50" fill="#ffffff"/>
<text x="147" y="483.7" fill="#ffff00" font-size="11" text-anchor="middle" style="font-family:'Liberation Serif',serif" textLength="34" lengthAdjust="spacingAndGlyphs">Sun Rise</text>
<text x="147" y="501.7" fill="#ffff00" font-size="11" text-anchor="middle" style="font-family:'Liberation Serif',serif" textLength="42" lengthAdjust="spacingAndGlyphs">Moon Rise</text>
<text x="341.5" y="483.7" fill="#ffff00" font-size="11" text-anchor="middle" style="font-family:'Liberation Serif',serif" textLength="30" lengthAdjust="spacingAndGlyphs">Sun Set</text>
<text x="331" y="501.7" fill="#ffff00" font-size="11" text-anchor="middle" style="font-family:'Liberation Serif',serif" textLength="38" lengthAdjust="spacingAndGlyphs">Moon Set</text>
</svg>
</body></html>
